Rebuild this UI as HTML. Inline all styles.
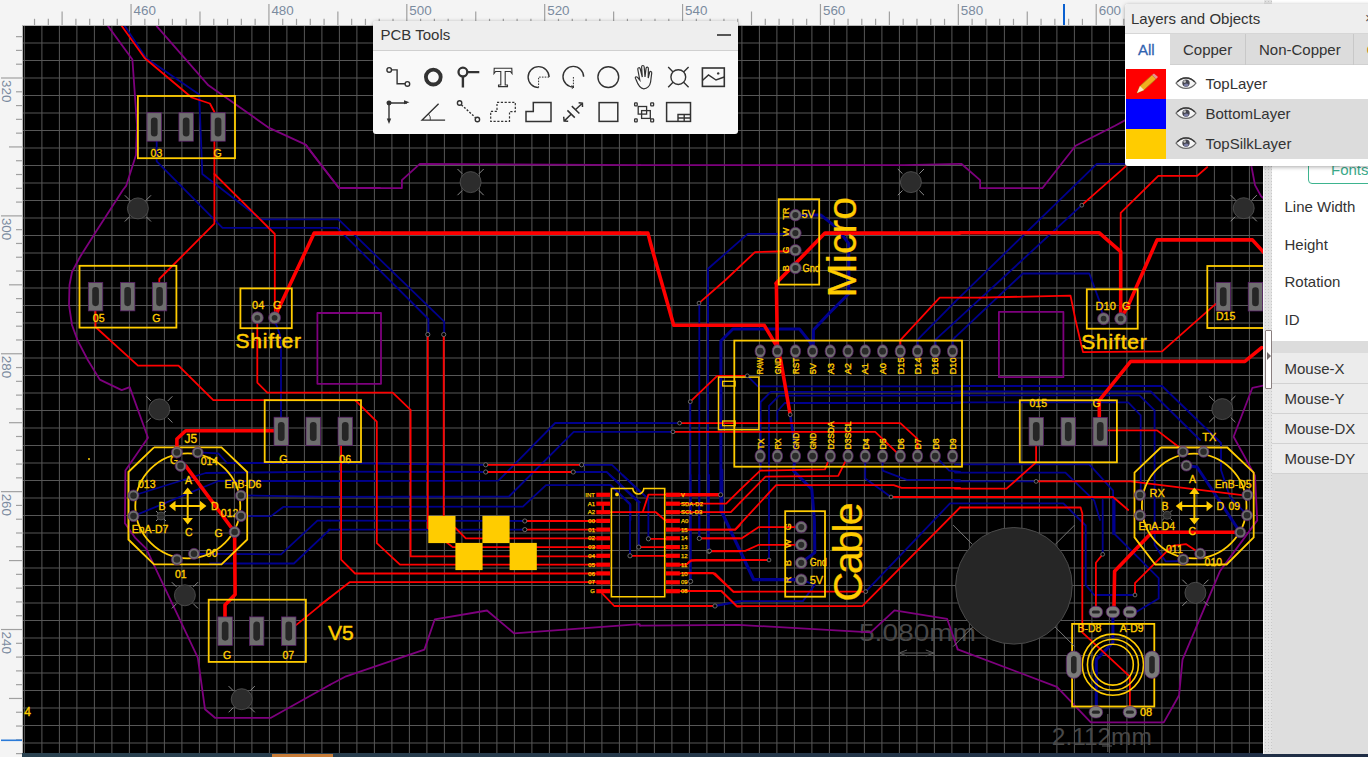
<!DOCTYPE html>
<html><head><meta charset="utf-8"><style>
*{margin:0;padding:0;box-sizing:border-box}
html,body{width:1368px;height:757px;overflow:hidden;background:#f4f4f4;font-family:"Liberation Sans",sans-serif}
svg{position:absolute;left:0;top:0}
.rl{font-family:"Liberation Sans",sans-serif;font-size:13.4px;fill:#7b8b9f}
.panel{position:absolute;background:#fff;box-shadow:0 1px 4px rgba(0,0,0,.35);border-radius:3px;overflow:hidden}
</style></head><body>
<svg width="1368" height="757" viewBox="0 0 1368 757">
<rect x="0" y="0" width="1368" height="757" fill="#f4f4f4"/>
<line x1="34.53" y1="18.8" x2="34.53" y2="25" stroke="#a0a0a0" stroke-width="1.2"/><line x1="48.32" y1="18.8" x2="48.32" y2="25" stroke="#a0a0a0" stroke-width="1.2"/><line x1="62.11" y1="11.5" x2="62.11" y2="25" stroke="#a0a0a0" stroke-width="1.2"/><line x1="75.90" y1="18.8" x2="75.90" y2="25" stroke="#a0a0a0" stroke-width="1.2"/><line x1="89.69" y1="18.8" x2="89.69" y2="25" stroke="#a0a0a0" stroke-width="1.2"/><line x1="103.47" y1="18.8" x2="103.47" y2="25" stroke="#a0a0a0" stroke-width="1.2"/><line x1="117.26" y1="18.8" x2="117.26" y2="25" stroke="#a0a0a0" stroke-width="1.2"/><line x1="131.05" y1="4" x2="131.05" y2="25" stroke="#a0a0a0" stroke-width="1.2"/><text x="133.55" y="14.8" class="rl">460</text><line x1="144.84" y1="18.8" x2="144.84" y2="25" stroke="#a0a0a0" stroke-width="1.2"/><line x1="158.63" y1="18.8" x2="158.63" y2="25" stroke="#a0a0a0" stroke-width="1.2"/><line x1="172.41" y1="18.8" x2="172.41" y2="25" stroke="#a0a0a0" stroke-width="1.2"/><line x1="186.20" y1="18.8" x2="186.20" y2="25" stroke="#a0a0a0" stroke-width="1.2"/><line x1="199.99" y1="11.5" x2="199.99" y2="25" stroke="#a0a0a0" stroke-width="1.2"/><line x1="213.78" y1="18.8" x2="213.78" y2="25" stroke="#a0a0a0" stroke-width="1.2"/><line x1="227.57" y1="18.8" x2="227.57" y2="25" stroke="#a0a0a0" stroke-width="1.2"/><line x1="241.35" y1="18.8" x2="241.35" y2="25" stroke="#a0a0a0" stroke-width="1.2"/><line x1="255.14" y1="18.8" x2="255.14" y2="25" stroke="#a0a0a0" stroke-width="1.2"/><line x1="268.93" y1="4" x2="268.93" y2="25" stroke="#a0a0a0" stroke-width="1.2"/><text x="271.43" y="14.8" class="rl">480</text><line x1="282.72" y1="18.8" x2="282.72" y2="25" stroke="#a0a0a0" stroke-width="1.2"/><line x1="296.51" y1="18.8" x2="296.51" y2="25" stroke="#a0a0a0" stroke-width="1.2"/><line x1="310.29" y1="18.8" x2="310.29" y2="25" stroke="#a0a0a0" stroke-width="1.2"/><line x1="324.08" y1="18.8" x2="324.08" y2="25" stroke="#a0a0a0" stroke-width="1.2"/><line x1="337.87" y1="11.5" x2="337.87" y2="25" stroke="#a0a0a0" stroke-width="1.2"/><line x1="351.66" y1="18.8" x2="351.66" y2="25" stroke="#a0a0a0" stroke-width="1.2"/><line x1="365.45" y1="18.8" x2="365.45" y2="25" stroke="#a0a0a0" stroke-width="1.2"/><line x1="379.23" y1="18.8" x2="379.23" y2="25" stroke="#a0a0a0" stroke-width="1.2"/><line x1="393.02" y1="18.8" x2="393.02" y2="25" stroke="#a0a0a0" stroke-width="1.2"/><line x1="406.81" y1="4" x2="406.81" y2="25" stroke="#a0a0a0" stroke-width="1.2"/><text x="409.31" y="14.8" class="rl">500</text><line x1="420.60" y1="18.8" x2="420.60" y2="25" stroke="#a0a0a0" stroke-width="1.2"/><line x1="434.39" y1="18.8" x2="434.39" y2="25" stroke="#a0a0a0" stroke-width="1.2"/><line x1="448.17" y1="18.8" x2="448.17" y2="25" stroke="#a0a0a0" stroke-width="1.2"/><line x1="461.96" y1="18.8" x2="461.96" y2="25" stroke="#a0a0a0" stroke-width="1.2"/><line x1="475.75" y1="11.5" x2="475.75" y2="25" stroke="#a0a0a0" stroke-width="1.2"/><line x1="489.54" y1="18.8" x2="489.54" y2="25" stroke="#a0a0a0" stroke-width="1.2"/><line x1="503.33" y1="18.8" x2="503.33" y2="25" stroke="#a0a0a0" stroke-width="1.2"/><line x1="517.11" y1="18.8" x2="517.11" y2="25" stroke="#a0a0a0" stroke-width="1.2"/><line x1="530.90" y1="18.8" x2="530.90" y2="25" stroke="#a0a0a0" stroke-width="1.2"/><line x1="544.69" y1="4" x2="544.69" y2="25" stroke="#a0a0a0" stroke-width="1.2"/><text x="547.19" y="14.8" class="rl">520</text><line x1="558.48" y1="18.8" x2="558.48" y2="25" stroke="#a0a0a0" stroke-width="1.2"/><line x1="572.27" y1="18.8" x2="572.27" y2="25" stroke="#a0a0a0" stroke-width="1.2"/><line x1="586.05" y1="18.8" x2="586.05" y2="25" stroke="#a0a0a0" stroke-width="1.2"/><line x1="599.84" y1="18.8" x2="599.84" y2="25" stroke="#a0a0a0" stroke-width="1.2"/><line x1="613.63" y1="11.5" x2="613.63" y2="25" stroke="#a0a0a0" stroke-width="1.2"/><line x1="627.42" y1="18.8" x2="627.42" y2="25" stroke="#a0a0a0" stroke-width="1.2"/><line x1="641.21" y1="18.8" x2="641.21" y2="25" stroke="#a0a0a0" stroke-width="1.2"/><line x1="654.99" y1="18.8" x2="654.99" y2="25" stroke="#a0a0a0" stroke-width="1.2"/><line x1="668.78" y1="18.8" x2="668.78" y2="25" stroke="#a0a0a0" stroke-width="1.2"/><line x1="682.57" y1="4" x2="682.57" y2="25" stroke="#a0a0a0" stroke-width="1.2"/><text x="685.07" y="14.8" class="rl">540</text><line x1="696.36" y1="18.8" x2="696.36" y2="25" stroke="#a0a0a0" stroke-width="1.2"/><line x1="710.15" y1="18.8" x2="710.15" y2="25" stroke="#a0a0a0" stroke-width="1.2"/><line x1="723.93" y1="18.8" x2="723.93" y2="25" stroke="#a0a0a0" stroke-width="1.2"/><line x1="737.72" y1="18.8" x2="737.72" y2="25" stroke="#a0a0a0" stroke-width="1.2"/><line x1="751.51" y1="11.5" x2="751.51" y2="25" stroke="#a0a0a0" stroke-width="1.2"/><line x1="765.30" y1="18.8" x2="765.30" y2="25" stroke="#a0a0a0" stroke-width="1.2"/><line x1="779.09" y1="18.8" x2="779.09" y2="25" stroke="#a0a0a0" stroke-width="1.2"/><line x1="792.87" y1="18.8" x2="792.87" y2="25" stroke="#a0a0a0" stroke-width="1.2"/><line x1="806.66" y1="18.8" x2="806.66" y2="25" stroke="#a0a0a0" stroke-width="1.2"/><line x1="820.45" y1="4" x2="820.45" y2="25" stroke="#a0a0a0" stroke-width="1.2"/><text x="822.95" y="14.8" class="rl">560</text><line x1="834.24" y1="18.8" x2="834.24" y2="25" stroke="#a0a0a0" stroke-width="1.2"/><line x1="848.03" y1="18.8" x2="848.03" y2="25" stroke="#a0a0a0" stroke-width="1.2"/><line x1="861.81" y1="18.8" x2="861.81" y2="25" stroke="#a0a0a0" stroke-width="1.2"/><line x1="875.60" y1="18.8" x2="875.60" y2="25" stroke="#a0a0a0" stroke-width="1.2"/><line x1="889.39" y1="11.5" x2="889.39" y2="25" stroke="#a0a0a0" stroke-width="1.2"/><line x1="903.18" y1="18.8" x2="903.18" y2="25" stroke="#a0a0a0" stroke-width="1.2"/><line x1="916.97" y1="18.8" x2="916.97" y2="25" stroke="#a0a0a0" stroke-width="1.2"/><line x1="930.75" y1="18.8" x2="930.75" y2="25" stroke="#a0a0a0" stroke-width="1.2"/><line x1="944.54" y1="18.8" x2="944.54" y2="25" stroke="#a0a0a0" stroke-width="1.2"/><line x1="958.33" y1="4" x2="958.33" y2="25" stroke="#a0a0a0" stroke-width="1.2"/><text x="960.83" y="14.8" class="rl">580</text><line x1="972.12" y1="18.8" x2="972.12" y2="25" stroke="#a0a0a0" stroke-width="1.2"/><line x1="985.91" y1="18.8" x2="985.91" y2="25" stroke="#a0a0a0" stroke-width="1.2"/><line x1="999.69" y1="18.8" x2="999.69" y2="25" stroke="#a0a0a0" stroke-width="1.2"/><line x1="1013.48" y1="18.8" x2="1013.48" y2="25" stroke="#a0a0a0" stroke-width="1.2"/><line x1="1027.27" y1="11.5" x2="1027.27" y2="25" stroke="#a0a0a0" stroke-width="1.2"/><line x1="1041.06" y1="18.8" x2="1041.06" y2="25" stroke="#a0a0a0" stroke-width="1.2"/><line x1="1054.85" y1="18.8" x2="1054.85" y2="25" stroke="#a0a0a0" stroke-width="1.2"/><line x1="1068.63" y1="18.8" x2="1068.63" y2="25" stroke="#a0a0a0" stroke-width="1.2"/><line x1="1082.42" y1="18.8" x2="1082.42" y2="25" stroke="#a0a0a0" stroke-width="1.2"/><line x1="1096.21" y1="4" x2="1096.21" y2="25" stroke="#a0a0a0" stroke-width="1.2"/><text x="1098.71" y="14.8" class="rl">600</text><line x1="1110.00" y1="18.8" x2="1110.00" y2="25" stroke="#a0a0a0" stroke-width="1.2"/><line x1="1123.79" y1="18.8" x2="1123.79" y2="25" stroke="#a0a0a0" stroke-width="1.2"/><line x1="16" y1="36.64" x2="22" y2="36.64" stroke="#a0a0a0" stroke-width="1.2"/><line x1="16" y1="50.42" x2="22" y2="50.42" stroke="#a0a0a0" stroke-width="1.2"/><line x1="16" y1="64.21" x2="22" y2="64.21" stroke="#a0a0a0" stroke-width="1.2"/><line x1="1" y1="78.00" x2="22" y2="78.00" stroke="#a0a0a0" stroke-width="1.2"/><text transform="translate(1.9,80.00) rotate(90)" class="rl">320</text><line x1="16" y1="91.79" x2="22" y2="91.79" stroke="#a0a0a0" stroke-width="1.2"/><line x1="16" y1="105.58" x2="22" y2="105.58" stroke="#a0a0a0" stroke-width="1.2"/><line x1="16" y1="119.36" x2="22" y2="119.36" stroke="#a0a0a0" stroke-width="1.2"/><line x1="16" y1="133.15" x2="22" y2="133.15" stroke="#a0a0a0" stroke-width="1.2"/><line x1="9" y1="146.94" x2="22" y2="146.94" stroke="#a0a0a0" stroke-width="1.2"/><line x1="16" y1="160.73" x2="22" y2="160.73" stroke="#a0a0a0" stroke-width="1.2"/><line x1="16" y1="174.52" x2="22" y2="174.52" stroke="#a0a0a0" stroke-width="1.2"/><line x1="16" y1="188.30" x2="22" y2="188.30" stroke="#a0a0a0" stroke-width="1.2"/><line x1="16" y1="202.09" x2="22" y2="202.09" stroke="#a0a0a0" stroke-width="1.2"/><line x1="1" y1="215.88" x2="22" y2="215.88" stroke="#a0a0a0" stroke-width="1.2"/><text transform="translate(1.9,217.88) rotate(90)" class="rl">300</text><line x1="16" y1="229.67" x2="22" y2="229.67" stroke="#a0a0a0" stroke-width="1.2"/><line x1="16" y1="243.46" x2="22" y2="243.46" stroke="#a0a0a0" stroke-width="1.2"/><line x1="16" y1="257.24" x2="22" y2="257.24" stroke="#a0a0a0" stroke-width="1.2"/><line x1="16" y1="271.03" x2="22" y2="271.03" stroke="#a0a0a0" stroke-width="1.2"/><line x1="9" y1="284.82" x2="22" y2="284.82" stroke="#a0a0a0" stroke-width="1.2"/><line x1="16" y1="298.61" x2="22" y2="298.61" stroke="#a0a0a0" stroke-width="1.2"/><line x1="16" y1="312.40" x2="22" y2="312.40" stroke="#a0a0a0" stroke-width="1.2"/><line x1="16" y1="326.18" x2="22" y2="326.18" stroke="#a0a0a0" stroke-width="1.2"/><line x1="16" y1="339.97" x2="22" y2="339.97" stroke="#a0a0a0" stroke-width="1.2"/><line x1="1" y1="353.76" x2="22" y2="353.76" stroke="#a0a0a0" stroke-width="1.2"/><text transform="translate(1.9,355.76) rotate(90)" class="rl">280</text><line x1="16" y1="367.55" x2="22" y2="367.55" stroke="#a0a0a0" stroke-width="1.2"/><line x1="16" y1="381.34" x2="22" y2="381.34" stroke="#a0a0a0" stroke-width="1.2"/><line x1="16" y1="395.12" x2="22" y2="395.12" stroke="#a0a0a0" stroke-width="1.2"/><line x1="16" y1="408.91" x2="22" y2="408.91" stroke="#a0a0a0" stroke-width="1.2"/><line x1="9" y1="422.70" x2="22" y2="422.70" stroke="#a0a0a0" stroke-width="1.2"/><line x1="16" y1="436.49" x2="22" y2="436.49" stroke="#a0a0a0" stroke-width="1.2"/><line x1="16" y1="450.28" x2="22" y2="450.28" stroke="#a0a0a0" stroke-width="1.2"/><line x1="16" y1="464.06" x2="22" y2="464.06" stroke="#a0a0a0" stroke-width="1.2"/><line x1="16" y1="477.85" x2="22" y2="477.85" stroke="#a0a0a0" stroke-width="1.2"/><line x1="1" y1="491.64" x2="22" y2="491.64" stroke="#a0a0a0" stroke-width="1.2"/><text transform="translate(1.9,493.64) rotate(90)" class="rl">260</text><line x1="16" y1="505.43" x2="22" y2="505.43" stroke="#a0a0a0" stroke-width="1.2"/><line x1="16" y1="519.22" x2="22" y2="519.22" stroke="#a0a0a0" stroke-width="1.2"/><line x1="16" y1="533.00" x2="22" y2="533.00" stroke="#a0a0a0" stroke-width="1.2"/><line x1="16" y1="546.79" x2="22" y2="546.79" stroke="#a0a0a0" stroke-width="1.2"/><line x1="9" y1="560.58" x2="22" y2="560.58" stroke="#a0a0a0" stroke-width="1.2"/><line x1="16" y1="574.37" x2="22" y2="574.37" stroke="#a0a0a0" stroke-width="1.2"/><line x1="16" y1="588.16" x2="22" y2="588.16" stroke="#a0a0a0" stroke-width="1.2"/><line x1="16" y1="601.94" x2="22" y2="601.94" stroke="#a0a0a0" stroke-width="1.2"/><line x1="16" y1="615.73" x2="22" y2="615.73" stroke="#a0a0a0" stroke-width="1.2"/><line x1="1" y1="629.52" x2="22" y2="629.52" stroke="#a0a0a0" stroke-width="1.2"/><text transform="translate(1.9,631.52) rotate(90)" class="rl">240</text><line x1="16" y1="643.31" x2="22" y2="643.31" stroke="#a0a0a0" stroke-width="1.2"/><line x1="16" y1="657.10" x2="22" y2="657.10" stroke="#a0a0a0" stroke-width="1.2"/><line x1="16" y1="670.88" x2="22" y2="670.88" stroke="#a0a0a0" stroke-width="1.2"/><line x1="16" y1="684.67" x2="22" y2="684.67" stroke="#a0a0a0" stroke-width="1.2"/><line x1="9" y1="698.46" x2="22" y2="698.46" stroke="#a0a0a0" stroke-width="1.2"/><line x1="16" y1="712.25" x2="22" y2="712.25" stroke="#a0a0a0" stroke-width="1.2"/><line x1="16" y1="726.04" x2="22" y2="726.04" stroke="#a0a0a0" stroke-width="1.2"/><line x1="16" y1="739.82" x2="22" y2="739.82" stroke="#a0a0a0" stroke-width="1.2"/><line x1="16" y1="753.61" x2="22" y2="753.61" stroke="#a0a0a0" stroke-width="1.2"/><line x1="1064" y1="4" x2="1064" y2="25" stroke="#0a60d0" stroke-width="2"/><line x1="1" y1="740.3" x2="22" y2="740.3" stroke="#2a7ad8" stroke-width="1.6"/>
<line x1="22" y1="25.5" x2="1263" y2="25.5" stroke="#b8b8b8" stroke-width="1"/>
<line x1="22.5" y1="25" x2="22.5" y2="757" stroke="#b8b8b8" stroke-width="1"/>
<defs><clipPath id="cv"><rect x="23" y="26" width="1240" height="727"/></clipPath></defs>
<rect x="23" y="26" width="1240" height="727" fill="#000"/>
<g clip-path="url(#cv)">
<path d="M24.40 26V753M41.90 26V753M59.40 26V753M76.90 26V753M94.40 26V753M111.90 26V753M129.40 26V753M146.90 26V753M164.40 26V753M181.90 26V753M199.40 26V753M216.90 26V753M234.40 26V753M251.90 26V753M269.40 26V753M286.90 26V753M304.40 26V753M321.90 26V753M339.40 26V753M356.90 26V753M374.40 26V753M391.90 26V753M409.40 26V753M426.90 26V753M444.40 26V753M461.90 26V753M479.40 26V753M496.90 26V753M514.40 26V753M531.90 26V753M549.40 26V753M566.90 26V753M584.40 26V753M601.90 26V753M619.40 26V753M636.90 26V753M654.40 26V753M671.90 26V753M689.40 26V753M706.90 26V753M724.40 26V753M741.90 26V753M759.40 26V753M776.90 26V753M794.40 26V753M811.90 26V753M829.40 26V753M846.90 26V753M864.40 26V753M881.90 26V753M899.40 26V753M916.90 26V753M934.40 26V753M951.90 26V753M969.40 26V753M986.90 26V753M1004.40 26V753M1021.90 26V753M1039.40 26V753M1056.90 26V753M1074.40 26V753M1091.90 26V753M1109.40 26V753M1126.90 26V753M1144.40 26V753M1161.90 26V753M1179.40 26V753M1196.90 26V753M1214.40 26V753M1231.90 26V753M1249.40 26V753M23 43.00H1263M23 60.50H1263M23 78.00H1263M23 95.50H1263M23 113.00H1263M23 130.50H1263M23 148.00H1263M23 165.50H1263M23 183.00H1263M23 200.50H1263M23 218.00H1263M23 235.50H1263M23 253.00H1263M23 270.50H1263M23 288.00H1263M23 305.50H1263M23 323.00H1263M23 340.50H1263M23 358.00H1263M23 375.50H1263M23 393.00H1263M23 410.50H1263M23 428.00H1263M23 445.50H1263M23 463.00H1263M23 480.50H1263M23 498.00H1263M23 515.50H1263M23 533.00H1263M23 550.50H1263M23 568.00H1263M23 585.50H1263M23 603.00H1263M23 620.50H1263M23 638.00H1263M23 655.50H1263M23 673.00H1263M23 690.50H1263M23 708.00H1263M23 725.50H1263M23 743.00H1263" stroke="#575757" stroke-width="1" fill="none"/>
<g font-family="Liberation Sans, sans-serif"><text x="859" y="641" font-size="24" fill="#484848" textLength="117" lengthAdjust="spacingAndGlyphs">5.080mm</text><path d="M898.9 585V671M933.9 585V671M899 653H933.8M899 653L907 650M899 653L907 656M933.8 653L925.8 650M933.8 653L925.8 656" stroke="#5a5a5a" stroke-width="1" fill="none"/><text x="1051.8" y="744.5" font-size="24" fill="#484848" textLength="100" lengthAdjust="spacingAndGlyphs">2.112mm</text><path d="M1107.8 714V752M1102 746H1112" stroke="#5a5a5a" stroke-width="1" fill="none"/></g><g fill="none" stroke-linejoin="round" stroke-linecap="round"><polyline points="108.1,26.1 132.4,59.5 137,125 136,155 126.3,185.6 122.9,190 95.3,232.7 80,257 72,272 69.5,285 69,305 72,325 77.7,340.6 87.8,360 99.8,379.6 121.7,390.1 129.7,387.1 148,437.8 125.4,470.4 124.9,523.2 135.5,538.2 146.2,548.6 197.8,657.6 205,709.2 215,717.8 271,717.8 330,684.8" stroke="#7d007d" stroke-width="1.8"/><polyline points="156.7,26.1 208.4,85.3 269.1,127.9 305.6,144.6 339,188 380,188" stroke="#7d007d" stroke-width="1.8"/><polyline points="317.4,313 381,313 381,383.8 317.4,383.8 317.4,313" stroke="#7d007d" stroke-width="1.8"/><polyline points="305.6,144.6 320,163.8 339,188.1 401.9,188.1 401.9,180.2 419.9,163.8 640,165.1" stroke="#7d007d" stroke-width="1.8"/><polyline points="640,165.1 904.3,165.1 960,163.8" stroke="#7d007d" stroke-width="1.8"/><polyline points="640,625.6 738.4,624.9 870.7,632.3 894.5,610.3 947.1,618.8 957.7,649.4" stroke="#7d007d" stroke-width="1.8"/><polyline points="960,163.8 961.3,163.8 980.1,180.1 980.1,188.2 1042.3,188.2 1075.6,145.7 1115,125.8 1126.8,119.4" stroke="#7d007d" stroke-width="1.8"/><polyline points="1251.2,165 1255,185.1 1261.2,196.4 1266,200" stroke="#7d007d" stroke-width="1.8"/><polyline points="998.9,311.9 1063.4,311.9 1063.4,377.2 998.9,377.2 998.9,311.9" stroke="#7d007d" stroke-width="1.8"/><polyline points="1266,385 1252.4,387.8 1233.6,436.7 1255,475.6 1257.2,520.4 1219.9,571.3 1182.5,659.6 1179.1,695.2 1163.8,722.4 1090.8,722.4 1056.9,686.8 957.7,649.4" stroke="#7d007d" stroke-width="1.8"/><polyline points="330,684.8 346.1,676.3 424.4,649.6 434.8,619.3 487,610.5 514,633.3 639.6,624.2 640,625.6" stroke="#7d007d" stroke-width="1.8"/><polyline points="124.8,26.1 146,58 199.2,94.4 202.3,174 261,219.4 339,219.4" stroke="#00008e" stroke-width="1.8"/><polyline points="156.7,141 156.7,161.3 222.5,227.8 337.2,227.8" stroke="#00008e" stroke-width="1.8"/><polyline points="274.6,320 280,335 281,345 281,417" stroke="#00008e" stroke-width="1.8"/><polyline points="133.5,495.5 205.7,473 330,471.7" stroke="#00008e" stroke-width="1.8"/><polyline points="133.5,516.1 218.3,481 330,481" stroke="#00008e" stroke-width="1.8"/><polyline points="197.7,452.4 218.3,453.4 227,463 330,463" stroke="#00008e" stroke-width="1.8"/><polyline points="240.9,495.5 330,496.8" stroke="#00008e" stroke-width="1.8"/><polyline points="240.9,516.1 271,516.1 283.5,506.8 330,506.8" stroke="#00008e" stroke-width="1.8"/><polyline points="194,553.8 281,554.3 317.4,520.6 330,520.6" stroke="#00008e" stroke-width="1.8"/><polyline points="210,563.5 293.9,563.5 330,529.4" stroke="#00008e" stroke-width="1.8"/><polyline points="338.5,219.4 444.2,321.6 444.2,334.5" stroke="#00008e" stroke-width="1.8"/><polyline points="337.2,227.8 428.4,319 428.4,334.5" stroke="#00008e" stroke-width="1.8"/><polyline points="330,463 485.7,464.8" stroke="#00008e" stroke-width="1.8"/><polyline points="330,471.7 485.7,472" stroke="#00008e" stroke-width="1.8"/><polyline points="330,481 498.4,480.7 555.2,423 640,423" stroke="#00008e" stroke-width="1.8"/><polyline points="330,496.8 509,496.5 573.7,431.8 640,431.8" stroke="#00008e" stroke-width="1.8"/><polyline points="330,506.8 522.9,506.6 546,485.2 610.7,485.2 630.5,505 630.5,520" stroke="#00008e" stroke-width="1.8"/><polyline points="581.6,464.8 612,464.8 640,491.8" stroke="#00008e" stroke-width="1.8"/><polyline points="573.2,472 606.7,472 640,502.3" stroke="#00008e" stroke-width="1.8"/><polyline points="330,520.6 524.8,521" stroke="#00008e" stroke-width="1.8"/><polyline points="328.5,529.6 524.8,529.6" stroke="#00008e" stroke-width="1.8"/><polyline points="580,485.2 610.5,485.2 630,503.7 630,555.8" stroke="#00008e" stroke-width="1.8"/><polyline points="609.6,475 638.8,502.7 638.8,547.1" stroke="#00008e" stroke-width="1.8"/><polyline points="622.5,475 648.4,499 648.4,538.8" stroke="#00008e" stroke-width="1.8"/><polyline points="690.6,475 690.6,581.4" stroke="#00008e" stroke-width="1.8"/><polyline points="699.3,475 699.3,538.4" stroke="#00008e" stroke-width="1.8"/><polyline points="708.9,475 708.9,551.4" stroke="#00008e" stroke-width="1.8"/><polyline points="715,606 740,601.7" stroke="#00008e" stroke-width="1.8"/><polyline points="721.8,470 721.8,512 753.7,579.7 801.2,579.7" stroke="#00008e" stroke-width="3.2"/><polyline points="708,330 708,268.7 747.8,233.9 795.4,233.9" stroke="#00008e" stroke-width="1.8"/><polyline points="708,268.7 708,551.4" stroke="#00008e" stroke-width="1.8"/><polyline points="699.3,303.1 699.3,538.4" stroke="#00008e" stroke-width="1.8"/><polyline points="690.3,401.7 690.6,581.4" stroke="#00008e" stroke-width="1.8"/><polyline points="801.2,215.1 821,215.1 836.9,227.8 848.8,243.6 848.8,293.8 830,312.4 813.4,330 813.4,342.9 812.6,351.2" stroke="#00008e" stroke-width="3"/><polyline points="720.9,512 720.9,341 732.9,329 799.5,329 810.6,342.9 812.4,350.8" stroke="#00008e" stroke-width="3"/><polyline points="747.3,375.8 757.9,386.4 960,386.4" stroke="#00008e" stroke-width="1.8"/><polyline points="760.6,420 760.6,402 770.8,391.9 960,391.9" stroke="#00008e" stroke-width="1.8"/><polyline points="769,420 769,405.8 779.1,395.6 960,395.6" stroke="#00008e" stroke-width="1.8"/><polyline points="777.3,420 777.3,411.3 784.7,403 960,403" stroke="#00008e" stroke-width="1.8"/><polyline points="760.6,420 760.6,470" stroke="#00008e" stroke-width="1.8"/><polyline points="769,420 769,560" stroke="#00008e" stroke-width="1.8"/><polyline points="640,423 679.6,423.1" stroke="#00008e" stroke-width="1.8"/><polyline points="640,431.8 673,431.8" stroke="#00008e" stroke-width="1.8"/><polyline points="865.2,456 865.2,478.6 891,497" stroke="#00008e" stroke-width="1.8"/><polyline points="882.6,456 882.6,470.6 906.9,479.9 960,479.9" stroke="#00008e" stroke-width="1.8"/><polyline points="935.2,456 949.2,470.6 960,472" stroke="#00008e" stroke-width="1.8"/><polyline points="795.4,456.1 793.3,470.6 811.8,489.1 814.4,520 814.8,552.6 801.2,562.8" stroke="#00008e" stroke-width="3"/><polyline points="917.7,351 917.7,339.6 955,301.9" stroke="#00008e" stroke-width="1.8"/><polyline points="952.7,351 952.7,339.6 955,337.3" stroke="#00008e" stroke-width="1.8"/><polyline points="935.5,351 935.5,339.6 955,321.9" stroke="#00008e" stroke-width="1.8"/><polyline points="714.7,605.9 738.4,601.1 802.9,601.1 814.8,584.8 801.2,579.7" stroke="#00008e" stroke-width="1.8"/><polyline points="865.7,591.6 950,503.4 1063.4,503.4 1085.7,525.5 1085.7,584.9 1094.2,595 1135,595" stroke="#00008e" stroke-width="1.8"/><polyline points="955,301.9 1096.8,163.8 1130,163.8" stroke="#00008e" stroke-width="1.8"/><polyline points="955,321.9 1081.8,205.2" stroke="#00008e" stroke-width="1.8"/><polyline points="955,337.3 1022.8,273.5 1089.3,273.5 1099.3,300.6 1103.6,318.7" stroke="#00008e" stroke-width="1.8"/><polyline points="955,481.4 1036.1,481.4" stroke="#00008e" stroke-width="1.8"/><polyline points="955,386 1162.1,386 1221,443 1221,470 1230,497 1247,515" stroke="#00008e" stroke-width="1.8"/><polyline points="955,391.5 1150.8,391.5 1200,440" stroke="#00008e" stroke-width="1.8"/><polyline points="955,395.3 1139.5,395.3 1154.6,410.4 1154.6,545 1165.7,561.4 1183.2,561" stroke="#00008e" stroke-width="1.8"/><polyline points="955,402.3 1128.2,402.3 1140.7,415.4 1140.7,495" stroke="#00008e" stroke-width="1.8"/><polyline points="955,464.3 1089.3,464.3 1113.1,490.7 1113.1,534" stroke="#00008e" stroke-width="1.8"/><polyline points="955,472.6 1065.4,472.6 1094.3,500.7 1100,520" stroke="#00008e" stroke-width="1.8"/><polyline points="1186.4,465.6 1197,467 1240.2,532.3" stroke="#00008e" stroke-width="3"/><polyline points="1102.7,500 1102.7,554.3" stroke="#00008e" stroke-width="1.8"/><polyline points="1114.6,500 1114.6,534 1158.7,578.1 1158.7,598.5 1133.3,613.8" stroke="#00008e" stroke-width="1.8"/><polyline points="1112.9,612 1112.9,642.6 1096.3,659.6 1096.3,712.2" stroke="#00008e" stroke-width="3"/><polyline points="790.2,414.7 794,440 795.4,456" stroke="#00008e" stroke-width="2.6"/><polyline points="121.8,26.1 144.6,58 191.6,97.5 209.9,103.5 214.4,112" stroke="#ff0000" stroke-width="1.8"/><polyline points="214.4,141 214.4,223.7 159.3,279 159.3,283" stroke="#ff0000" stroke-width="1.8"/><polyline points="214.4,174 274.8,234 274.8,311" stroke="#ff0000" stroke-width="1.8"/><polyline points="274.8,317.8 278,310 314.2,233.1 380,233.1" stroke="#ff0000" stroke-width="3.6"/><polyline points="95.5,310.5 95.5,327 138,365.6 178.5,365.6 213.3,400.2 266,400.2" stroke="#ff0000" stroke-width="1.8"/><polyline points="257.3,317.8 257.3,382.6 267.3,392.6 330,392.6" stroke="#ff0000" stroke-width="1.8"/><polyline points="176.9,452.4 176.9,439 185.7,430.8 281,430.8" stroke="#ff0000" stroke-width="3.6"/><polyline points="180.6,465.9 185.7,465.9 234.6,532 235.1,594.5 225,605 225,630" stroke="#ff0000" stroke-width="3.6"/><polyline points="289,630 296.7,624.6 330,597.4" stroke="#ff0000" stroke-width="1.8"/><polyline points="380,233.1 640,233.1" stroke="#ff0000" stroke-width="3.6"/><polyline points="330,392.6 392.7,392.7 410.6,409.9 410.6,556.4 425.9,556.4" stroke="#ff0000" stroke-width="1.8"/><polyline points="266,400.2 355.1,400.2 376.8,421.7 376.8,543.2 400,564.7 596,564.7" stroke="#ff0000" stroke-width="1.8"/><polyline points="341.1,444.2 341.1,559.6 355.1,573.5 596,573.5" stroke="#ff0000" stroke-width="1.8"/><polyline points="427.8,334.5 427.8,528 452.7,547.1 596,547.1" stroke="#ff0000" stroke-width="1.8"/><polyline points="443.7,334.5 443.7,518 456,528.5 465.8,538.4 596,538.4" stroke="#ff0000" stroke-width="1.8"/><polyline points="425.9,556.4 596,556.4" stroke="#ff0000" stroke-width="1.8"/><polyline points="320,605.3 349.6,582.2 596,582.2" stroke="#ff0000" stroke-width="1.8"/><polyline points="485.7,464.8 581.6,464.8" stroke="#ff0000" stroke-width="1.8"/><polyline points="485.7,472 573.2,472" stroke="#ff0000" stroke-width="1.8"/><polyline points="524.8,521 596,521" stroke="#ff0000" stroke-width="1.8"/><polyline points="524.8,529.6 596,529.6" stroke="#ff0000" stroke-width="1.8"/><polyline points="680,494.8 720.6,494.8" stroke="#ff0000" stroke-width="3.6"/><polyline points="611,512.2 655.8,512.2 665.1,520.3" stroke="#ff0000" stroke-width="1.8"/><polyline points="642.9,511.5 648.4,494.6 666,494.6" stroke="#ff0000" stroke-width="1.8"/><polyline points="680,503.7 726.1,503.7 740,489.8" stroke="#ff0000" stroke-width="1.8"/><polyline points="680,512.2 730.8,512.2 740,502.7" stroke="#ff0000" stroke-width="1.8"/><polyline points="680,529.6 735.4,529.6 740,525" stroke="#ff0000" stroke-width="1.8"/><polyline points="648.4,538.8 666,538.8" stroke="#ff0000" stroke-width="1.8"/><polyline points="699.3,538.4 740,538.4" stroke="#ff0000" stroke-width="1.8"/><polyline points="638.8,547.1 666,547.1" stroke="#ff0000" stroke-width="1.8"/><polyline points="630,555.8 666,555.8" stroke="#ff0000" stroke-width="1.8"/><polyline points="708.9,551.4 740,551.4" stroke="#ff0000" stroke-width="1.8"/><polyline points="680,564.7 686.4,564.7 691,560.5 740,560.5" stroke="#ff0000" stroke-width="1.8"/><polyline points="680,573.4 715,573.4 733.5,591.9 740,591.9" stroke="#ff0000" stroke-width="1.8"/><polyline points="680,591.2 721.5,591.2 737.2,606.7 740,606.7" stroke="#ff0000" stroke-width="1.8"/><polyline points="602.2,593.4 614.2,606 715,606" stroke="#ff0000" stroke-width="1.8"/><polyline points="603,503.7 603,512.2" stroke="#ff0000" stroke-width="1.8"/><rect x="596.3" y="492.7" width="13.7" height="4.2" fill="#ff0000" stroke="none"/><rect x="666" y="492.7" width="13.9" height="4.2" fill="#ff0000" stroke="none"/><rect x="596.3" y="501.59999999999997" width="13.7" height="4.2" fill="#ff0000" stroke="none"/><rect x="666" y="501.59999999999997" width="13.9" height="4.2" fill="#ff0000" stroke="none"/><rect x="596.3" y="510.1" width="13.7" height="4.2" fill="#ff0000" stroke="none"/><rect x="666" y="510.1" width="13.9" height="4.2" fill="#ff0000" stroke="none"/><rect x="596.3" y="518.8" width="13.7" height="4.2" fill="#ff0000" stroke="none"/><rect x="666" y="518.8" width="13.9" height="4.2" fill="#ff0000" stroke="none"/><rect x="596.3" y="527.5" width="13.7" height="4.2" fill="#ff0000" stroke="none"/><rect x="666" y="527.5" width="13.9" height="4.2" fill="#ff0000" stroke="none"/><rect x="596.3" y="536.1999999999999" width="13.7" height="4.2" fill="#ff0000" stroke="none"/><rect x="666" y="536.1999999999999" width="13.9" height="4.2" fill="#ff0000" stroke="none"/><rect x="596.3" y="545.0" width="13.7" height="4.2" fill="#ff0000" stroke="none"/><rect x="666" y="545.0" width="13.9" height="4.2" fill="#ff0000" stroke="none"/><rect x="596.3" y="553.6999999999999" width="13.7" height="4.2" fill="#ff0000" stroke="none"/><rect x="666" y="553.6999999999999" width="13.9" height="4.2" fill="#ff0000" stroke="none"/><rect x="596.3" y="562.6" width="13.7" height="4.2" fill="#ff0000" stroke="none"/><rect x="666" y="562.6" width="13.9" height="4.2" fill="#ff0000" stroke="none"/><rect x="596.3" y="571.3" width="13.7" height="4.2" fill="#ff0000" stroke="none"/><rect x="666" y="571.3" width="13.9" height="4.2" fill="#ff0000" stroke="none"/><rect x="596.3" y="580.1999999999999" width="13.7" height="4.2" fill="#ff0000" stroke="none"/><rect x="666" y="580.1999999999999" width="13.9" height="4.2" fill="#ff0000" stroke="none"/><rect x="596.3" y="589.1" width="13.7" height="4.2" fill="#ff0000" stroke="none"/><rect x="666" y="589.1" width="13.9" height="4.2" fill="#ff0000" stroke="none"/><polyline points="640,233.1 647.9,233.1 651,245 673.7,325.3 764.3,325.3 776.4,345.7 777.7,350.8" stroke="#ff0000" stroke-width="3.6"/><polyline points="776.4,283.7 777.3,342.9 777.7,350.8" stroke="#ff0000" stroke-width="3.6"/><polyline points="776.1,283.3 825,233.1 960,233.1" stroke="#ff0000" stroke-width="3.6"/><polyline points="777.7,350.8 780.6,359.5 790.2,414.7" stroke="#ff0000" stroke-width="3.6"/><polyline points="699,303.1 725.5,280 755,252.1 795.4,251" stroke="#ff0000" stroke-width="1.8"/><polyline points="690.3,401.7 717.2,375.8 747.3,375.8" stroke="#ff0000" stroke-width="1.8"/><polyline points="680,564.7 686.4,564.7 691,560.5 696,560 769,560" stroke="#ff0000" stroke-width="1.8"/><polyline points="679.6,423.1 900.3,423.1 917.5,438.9 917.5,456" stroke="#ff0000" stroke-width="1.8"/><polyline points="673,431.8 875.2,431.8 895,450.8 900.3,456" stroke="#ff0000" stroke-width="1.8"/><polyline points="740,489.8 760.2,470.6 825,469.3 830.3,456.1" stroke="#ff0000" stroke-width="1.8"/><polyline points="740,502.7 765.5,476.7 838.2,475.9 848,456.1" stroke="#ff0000" stroke-width="1.8"/><polyline points="680,529.6 735,529.6 776.1,485.2 893.7,485.2 901.6,487.8 960,487.8" stroke="#ff0000" stroke-width="1.8"/><polyline points="891,497 960,497" stroke="#ff0000" stroke-width="1.8"/><polyline points="900.4,351.2 900.4,340.2 939.7,297.6 980,297.6" stroke="#ff0000" stroke-width="1.8"/><polyline points="699.3,538.4 741.8,538.3 758.8,527.1 801.2,527.1" stroke="#ff0000" stroke-width="1.8"/><polyline points="709.6,550.9 745.2,550.9 758.8,544.8 801.2,544.8" stroke="#ff0000" stroke-width="1.8"/><polyline points="684,573 713,573 733.3,591.6 865.7,591.6" stroke="#ff0000" stroke-width="1.8"/><polyline points="684,591 721.4,591 736.7,606.2 862.3,606.2 960,507.5" stroke="#ff0000" stroke-width="1.8"/><polyline points="1081.8,205.2 1125.7,166.3" stroke="#ff0000" stroke-width="1.8"/><polyline points="1120.7,250.4 1120.7,212.8 1158.3,175.9 1197.2,175.9 1207.3,167" stroke="#ff0000" stroke-width="1.8"/><polyline points="960,232.8 1099.3,232.8 1120.7,251.7 1120.7,318.7" stroke="#ff0000" stroke-width="3.6"/><polyline points="1120.7,318.7 1128.2,305.6 1157.1,239.9 1252.4,239.9 1266,255" stroke="#ff0000" stroke-width="3.6"/><polyline points="980,297.6 1070.5,295.6 1075.5,320 1083,352.1 1162.1,351.4 1216,303.6" stroke="#ff0000" stroke-width="1.8"/><polyline points="1261.7,347.6 1244.9,361.4 1130.7,361.4 1099.3,400.3 1099.3,416.6" stroke="#ff0000" stroke-width="3.6"/><polyline points="1036.1,445 1036.1,462.3 1006.5,488.7 955,488.7" stroke="#ff0000" stroke-width="1.8"/><polyline points="1107.1,430.4 1157.1,430.4 1178.4,446.8 1182.9,451.8" stroke="#ff0000" stroke-width="1.8"/><polyline points="1036.1,481.4 1130.7,481.4 1246.2,495.7" stroke="#ff0000" stroke-width="1.8"/><polyline points="955,497 1113.1,497 1128.2,510" stroke="#ff0000" stroke-width="1.8"/><polyline points="1240.2,532.3 1152,532.3 1114.6,571.3 1113.9,612" stroke="#ff0000" stroke-width="3.6"/><polyline points="1135,595 1135,583.2 1172.3,545.8 1185.9,544.1 1200.2,553.6" stroke="#ff0000" stroke-width="1.8"/><polyline points="960,507.5 1080.6,507.5 1082.3,513.6 1082.3,632.4 1129.9,676.6 1129.9,712.2" stroke="#ff0000" stroke-width="1.8"/><polyline points="1102.7,554.3 1095.9,562.8 1095.9,612" stroke="#ff0000" stroke-width="1.8"/></g><g fill="none" stroke-linejoin="miter" font-family="Liberation Sans, sans-serif"><rect x="137.9" y="96" width="97.1" height="62.19999999999999" stroke="#ffcc00" stroke-width="1.8"/><text x="150.6" y="156.5" font-size="10.5" text-anchor="start" font-weight="normal" fill="#ffcc00" stroke="#ffcc00" stroke-width="0.35" stroke-linejoin="round">03</text><text x="213.5" y="156.5" font-size="10.5" text-anchor="start" font-weight="normal" fill="#ffcc00" stroke="#ffcc00" stroke-width="0.35" stroke-linejoin="round">G</text><rect x="79.5" y="265.8" width="96.9" height="61.80000000000001" stroke="#ffcc00" stroke-width="1.8"/><text x="92.8" y="321.8" font-size="10.5" text-anchor="start" font-weight="normal" fill="#ffcc00" stroke="#ffcc00" stroke-width="0.35" stroke-linejoin="round">05</text><text x="152.3" y="321.8" font-size="10.5" text-anchor="start" font-weight="normal" fill="#ffcc00" stroke="#ffcc00" stroke-width="0.35" stroke-linejoin="round">G</text><rect x="240.4" y="288.4" width="51.400000000000006" height="39.80000000000001" stroke="#ffcc00" stroke-width="1.8"/><text x="252.1" y="308.8" font-size="11" text-anchor="start" font-weight="normal" fill="#ffcc00" stroke="#ffcc00" stroke-width="0.35" stroke-linejoin="round">04</text><text x="273" y="308.8" font-size="11" text-anchor="start" font-weight="normal" fill="#ffcc00" stroke="#ffcc00" stroke-width="0.35" stroke-linejoin="round">G</text><text x="235.5" y="347.6" font-size="21" text-anchor="start" font-weight="normal" fill="#ffcc00" stroke="#ffcc00" stroke-width="0.5" stroke-linejoin="round" textLength="65.5" lengthAdjust="spacing">Shifter</text><rect x="264.7" y="400.2" width="96.30000000000001" height="61.80000000000001" stroke="#ffcc00" stroke-width="1.8"/><text x="279.3" y="462.5" font-size="10.5" text-anchor="start" font-weight="normal" fill="#ffcc00" stroke="#ffcc00" stroke-width="0.35" stroke-linejoin="round">G</text><text x="339.3" y="462.5" font-size="10.5" text-anchor="start" font-weight="normal" fill="#ffcc00" stroke="#ffcc00" stroke-width="0.35" stroke-linejoin="round">06</text><polyline points="154,447.3 221.5,447.3 247.2,472 247.2,539.5 221.5,564.4 154,564.4 128.4,539.5 128.4,472 154,447.3" stroke="#ffcc00" stroke-width="1.8"/><path d="M240.3 505.8A52.5 52.5 0 1 1 135.3 505.8A52.5 52.5 0 1 1 240.3 505.8Z" stroke="#ffcc00" stroke-width="1.8"/><path d="M172.5 506H203M187.7 491V521" stroke="#ffcc00" stroke-width="2"/><path d="M187.7 487.5L182.5 494L192.9 494ZM187.7 524.5L182.5 518L192.9 518ZM169 506L175.5 500.8L175.5 511.2ZM206.4 506L199.9 500.8L199.9 511.2Z" fill="#ffcc00" stroke="none"/><text x="184.4" y="442.8" font-size="12" text-anchor="start" font-weight="normal" fill="#ffcc00" stroke="#ffcc00" stroke-width="0.35" stroke-linejoin="round">J5</text><text x="170" y="464" font-size="10.5" text-anchor="start" font-weight="normal" fill="#ffcc00" stroke="#ffcc00" stroke-width="0.35" stroke-linejoin="round">G</text><text x="200.7" y="465" font-size="10.5" text-anchor="start" font-weight="normal" fill="#ffcc00" stroke="#ffcc00" stroke-width="0.35" stroke-linejoin="round">014</text><text x="138" y="488" font-size="10.5" text-anchor="start" font-weight="normal" fill="#ffcc00" stroke="#ffcc00" stroke-width="0.35" stroke-linejoin="round">013</text><text x="224.6" y="488" font-size="10.5" text-anchor="start" font-weight="normal" fill="#ffcc00" stroke="#ffcc00" stroke-width="0.35" stroke-linejoin="round">EnB-D6</text><text x="185" y="483.5" font-size="10.5" text-anchor="start" font-weight="normal" fill="#ffcc00" stroke="#ffcc00" stroke-width="0.35" stroke-linejoin="round">A</text><text x="158.6" y="510" font-size="10.5" text-anchor="start" font-weight="normal" fill="#ffcc00" stroke="#ffcc00" stroke-width="0.35" stroke-linejoin="round">B</text><text x="211" y="510" font-size="10.5" text-anchor="start" font-weight="normal" fill="#ffcc00" stroke="#ffcc00" stroke-width="0.35" stroke-linejoin="round">D</text><text x="185" y="535.7" font-size="10.5" text-anchor="start" font-weight="normal" fill="#ffcc00" stroke="#ffcc00" stroke-width="0.35" stroke-linejoin="round">C</text><text x="220.8" y="517" font-size="10.5" text-anchor="start" font-weight="normal" fill="#ffcc00" stroke="#ffcc00" stroke-width="0.35" stroke-linejoin="round">012</text><text x="131.7" y="533" font-size="10.5" text-anchor="start" font-weight="normal" fill="#ffcc00" stroke="#ffcc00" stroke-width="0.35" stroke-linejoin="round">EnA-D7</text><text x="214.5" y="537" font-size="10.5" text-anchor="start" font-weight="normal" fill="#ffcc00" stroke="#ffcc00" stroke-width="0.35" stroke-linejoin="round">G</text><text x="205.8" y="557" font-size="10.5" text-anchor="start" font-weight="normal" fill="#ffcc00" stroke="#ffcc00" stroke-width="0.35" stroke-linejoin="round">00</text><text x="174.9" y="578" font-size="10.5" text-anchor="start" font-weight="normal" fill="#ffcc00" stroke="#ffcc00" stroke-width="0.35" stroke-linejoin="round">01</text><rect x="208.7" y="599.7" width="97.19999999999999" height="62.19999999999993" stroke="#ffcc00" stroke-width="1.8"/><text x="223" y="659" font-size="10.5" text-anchor="start" font-weight="normal" fill="#ffcc00" stroke="#ffcc00" stroke-width="0.35" stroke-linejoin="round">G</text><text x="282.4" y="659" font-size="10.5" text-anchor="start" font-weight="normal" fill="#ffcc00" stroke="#ffcc00" stroke-width="0.35" stroke-linejoin="round">07</text><text x="328" y="640" font-size="21" text-anchor="start" font-weight="normal" fill="#ffcc00" stroke="#ffcc00" stroke-width="0.5" stroke-linejoin="round">V5</text><text x="24.3" y="715.5" font-size="12" text-anchor="start" font-weight="normal" fill="#ffcc00" stroke="#ffcc00" stroke-width="0.35" stroke-linejoin="round">4</text><rect x="428.3" y="515.9" width="27.2" height="27.2" fill="#ffcc00" stroke="none"/><rect x="482.4" y="515.9" width="27.2" height="27.2" fill="#ffcc00" stroke="none"/><rect x="455.4" y="542.9" width="27.2" height="27.2" fill="#ffcc00" stroke="none"/><rect x="509.6" y="542.9" width="27.2" height="27.2" fill="#ffcc00" stroke="none"/><path d="M611.4 488.5H632.8A5.5 5.5 0 0 0 643.8 488.5H664.7V596.7H611.4Z" stroke="#ffcc00" stroke-width="1.6"/><circle cx="617" cy="494.4" r="1.9" fill="#ffcc00" stroke="none"/><text x="595" y="496.90000000000003" font-size="6" text-anchor="end" font-weight="normal" fill="#ffcc00" stroke="#ffcc00" stroke-width="0.25" stroke-linejoin="round">INT</text><text x="595" y="505.8" font-size="6" text-anchor="end" font-weight="normal" fill="#ffcc00" stroke="#ffcc00" stroke-width="0.25" stroke-linejoin="round">A1</text><text x="595" y="514.3000000000001" font-size="6" text-anchor="end" font-weight="normal" fill="#ffcc00" stroke="#ffcc00" stroke-width="0.25" stroke-linejoin="round">A2</text><text x="595" y="523.0" font-size="6" text-anchor="end" font-weight="normal" fill="#ffcc00" stroke="#ffcc00" stroke-width="0.25" stroke-linejoin="round">00</text><text x="595" y="531.7" font-size="6" text-anchor="end" font-weight="normal" fill="#ffcc00" stroke="#ffcc00" stroke-width="0.25" stroke-linejoin="round">01</text><text x="595" y="540.4" font-size="6" text-anchor="end" font-weight="normal" fill="#ffcc00" stroke="#ffcc00" stroke-width="0.25" stroke-linejoin="round">02</text><text x="595" y="549.2" font-size="6" text-anchor="end" font-weight="normal" fill="#ffcc00" stroke="#ffcc00" stroke-width="0.25" stroke-linejoin="round">03</text><text x="595" y="557.9" font-size="6" text-anchor="end" font-weight="normal" fill="#ffcc00" stroke="#ffcc00" stroke-width="0.25" stroke-linejoin="round">04</text><text x="595" y="566.8000000000001" font-size="6" text-anchor="end" font-weight="normal" fill="#ffcc00" stroke="#ffcc00" stroke-width="0.25" stroke-linejoin="round">05</text><text x="595" y="575.5" font-size="6" text-anchor="end" font-weight="normal" fill="#ffcc00" stroke="#ffcc00" stroke-width="0.25" stroke-linejoin="round">06</text><text x="595" y="584.4" font-size="6" text-anchor="end" font-weight="normal" fill="#ffcc00" stroke="#ffcc00" stroke-width="0.25" stroke-linejoin="round">07</text><text x="595" y="593.3000000000001" font-size="6" text-anchor="end" font-weight="normal" fill="#ffcc00" stroke="#ffcc00" stroke-width="0.25" stroke-linejoin="round">G</text><text x="681" y="496.90000000000003" font-size="6" text-anchor="start" font-weight="normal" fill="#ffcc00" stroke="#ffcc00" stroke-width="0.25" stroke-linejoin="round">V</text><text x="681" y="505.8" font-size="6" text-anchor="start" font-weight="normal" fill="#ffcc00" stroke="#ffcc00" stroke-width="0.25" stroke-linejoin="round">SDA-D2</text><text x="681" y="514.3000000000001" font-size="6" text-anchor="start" font-weight="normal" fill="#ffcc00" stroke="#ffcc00" stroke-width="0.25" stroke-linejoin="round">SCL-D3</text><text x="681" y="523.0" font-size="6" text-anchor="start" font-weight="normal" fill="#ffcc00" stroke="#ffcc00" stroke-width="0.25" stroke-linejoin="round">A0</text><text x="681" y="531.7" font-size="6" text-anchor="start" font-weight="normal" fill="#ffcc00" stroke="#ffcc00" stroke-width="0.25" stroke-linejoin="round">15</text><text x="681" y="540.4" font-size="6" text-anchor="start" font-weight="normal" fill="#ffcc00" stroke="#ffcc00" stroke-width="0.25" stroke-linejoin="round">14</text><text x="681" y="549.2" font-size="6" text-anchor="start" font-weight="normal" fill="#ffcc00" stroke="#ffcc00" stroke-width="0.25" stroke-linejoin="round">13</text><text x="681" y="557.9" font-size="6" text-anchor="start" font-weight="normal" fill="#ffcc00" stroke="#ffcc00" stroke-width="0.25" stroke-linejoin="round">12</text><text x="681" y="566.8000000000001" font-size="6" text-anchor="start" font-weight="normal" fill="#ffcc00" stroke="#ffcc00" stroke-width="0.25" stroke-linejoin="round">11</text><text x="681" y="575.5" font-size="6" text-anchor="start" font-weight="normal" fill="#ffcc00" stroke="#ffcc00" stroke-width="0.25" stroke-linejoin="round">10</text><text x="681" y="584.4" font-size="6" text-anchor="start" font-weight="normal" fill="#ffcc00" stroke="#ffcc00" stroke-width="0.25" stroke-linejoin="round">09</text><text x="681" y="593.3000000000001" font-size="6" text-anchor="start" font-weight="normal" fill="#ffcc00" stroke="#ffcc00" stroke-width="0.25" stroke-linejoin="round">08</text><rect x="734.3" y="340.6" width="227.70000000000005" height="126.09999999999997" stroke="#ffcc00" stroke-width="1.8"/><text x="763.5" y="374.3" font-size="8.8" text-anchor="start" font-weight="normal" fill="#ffcc00" stroke="#ffcc00" stroke-width="0.35" stroke-linejoin="round" transform="rotate(-90 763.5 374.3)" textLength="16.8" lengthAdjust="spacingAndGlyphs">RAW</text><text x="780.6999999999999" y="374.3" font-size="8.8" text-anchor="start" font-weight="normal" fill="#ffcc00" stroke="#ffcc00" stroke-width="0.35" stroke-linejoin="round" transform="rotate(-90 780.6999999999999 374.3)" textLength="16.8" lengthAdjust="spacingAndGlyphs">GND</text><text x="798.6999999999999" y="374.3" font-size="8.8" text-anchor="start" font-weight="normal" fill="#ffcc00" stroke="#ffcc00" stroke-width="0.35" stroke-linejoin="round" transform="rotate(-90 798.6999999999999 374.3)" textLength="16.8" lengthAdjust="spacingAndGlyphs">RST</text><text x="815.9" y="374.3" font-size="8.8" text-anchor="start" font-weight="normal" fill="#ffcc00" stroke="#ffcc00" stroke-width="0.35" stroke-linejoin="round" transform="rotate(-90 815.9 374.3)" textLength="11.2" lengthAdjust="spacingAndGlyphs">5V</text><text x="833.5999999999999" y="374.3" font-size="8.8" text-anchor="start" font-weight="normal" fill="#ffcc00" stroke="#ffcc00" stroke-width="0.35" stroke-linejoin="round" transform="rotate(-90 833.5999999999999 374.3)" textLength="11.2" lengthAdjust="spacingAndGlyphs">A3</text><text x="851.3" y="374.3" font-size="8.8" text-anchor="start" font-weight="normal" fill="#ffcc00" stroke="#ffcc00" stroke-width="0.35" stroke-linejoin="round" transform="rotate(-90 851.3 374.3)" textLength="11.2" lengthAdjust="spacingAndGlyphs">A2</text><text x="868.5" y="374.3" font-size="8.8" text-anchor="start" font-weight="normal" fill="#ffcc00" stroke="#ffcc00" stroke-width="0.35" stroke-linejoin="round" transform="rotate(-90 868.5 374.3)" textLength="11.2" lengthAdjust="spacingAndGlyphs">A1</text><text x="885.9" y="374.3" font-size="8.8" text-anchor="start" font-weight="normal" fill="#ffcc00" stroke="#ffcc00" stroke-width="0.35" stroke-linejoin="round" transform="rotate(-90 885.9 374.3)" textLength="11.2" lengthAdjust="spacingAndGlyphs">A0</text><text x="903.5999999999999" y="374.3" font-size="8.8" text-anchor="start" font-weight="normal" fill="#ffcc00" stroke="#ffcc00" stroke-width="0.35" stroke-linejoin="round" transform="rotate(-90 903.5999999999999 374.3)" textLength="16.8" lengthAdjust="spacingAndGlyphs">D15</text><text x="920.8" y="374.3" font-size="8.8" text-anchor="start" font-weight="normal" fill="#ffcc00" stroke="#ffcc00" stroke-width="0.35" stroke-linejoin="round" transform="rotate(-90 920.8 374.3)" textLength="16.8" lengthAdjust="spacingAndGlyphs">D14</text><text x="938.5" y="374.3" font-size="8.8" text-anchor="start" font-weight="normal" fill="#ffcc00" stroke="#ffcc00" stroke-width="0.35" stroke-linejoin="round" transform="rotate(-90 938.5 374.3)" textLength="16.8" lengthAdjust="spacingAndGlyphs">D16</text><text x="955.9" y="374.3" font-size="8.8" text-anchor="start" font-weight="normal" fill="#ffcc00" stroke="#ffcc00" stroke-width="0.35" stroke-linejoin="round" transform="rotate(-90 955.9 374.3)" textLength="16.8" lengthAdjust="spacingAndGlyphs">D10</text><text x="763.5" y="449.5" font-size="8.8" text-anchor="start" font-weight="normal" fill="#ffcc00" stroke="#ffcc00" stroke-width="0.35" stroke-linejoin="round" transform="rotate(-90 763.5 449.5)" textLength="11.2" lengthAdjust="spacingAndGlyphs">TX</text><text x="780.6999999999999" y="449.5" font-size="8.8" text-anchor="start" font-weight="normal" fill="#ffcc00" stroke="#ffcc00" stroke-width="0.35" stroke-linejoin="round" transform="rotate(-90 780.6999999999999 449.5)" textLength="11.2" lengthAdjust="spacingAndGlyphs">RX</text><text x="798.6999999999999" y="449.5" font-size="8.8" text-anchor="start" font-weight="normal" fill="#ffcc00" stroke="#ffcc00" stroke-width="0.35" stroke-linejoin="round" transform="rotate(-90 798.6999999999999 449.5)" textLength="16.8" lengthAdjust="spacingAndGlyphs">GND</text><text x="815.9" y="449.5" font-size="8.8" text-anchor="start" font-weight="normal" fill="#ffcc00" stroke="#ffcc00" stroke-width="0.35" stroke-linejoin="round" transform="rotate(-90 815.9 449.5)" textLength="16.8" lengthAdjust="spacingAndGlyphs">GND</text><text x="833.5999999999999" y="449.5" font-size="8.8" text-anchor="start" font-weight="normal" fill="#ffcc00" stroke="#ffcc00" stroke-width="0.35" stroke-linejoin="round" transform="rotate(-90 833.5999999999999 449.5)" textLength="28.0" lengthAdjust="spacingAndGlyphs">D2SDA</text><text x="851.3" y="449.5" font-size="8.8" text-anchor="start" font-weight="normal" fill="#ffcc00" stroke="#ffcc00" stroke-width="0.35" stroke-linejoin="round" transform="rotate(-90 851.3 449.5)" textLength="28.0" lengthAdjust="spacingAndGlyphs">D3SCL</text><text x="868.5" y="449.5" font-size="8.8" text-anchor="start" font-weight="normal" fill="#ffcc00" stroke="#ffcc00" stroke-width="0.35" stroke-linejoin="round" transform="rotate(-90 868.5 449.5)" textLength="11.2" lengthAdjust="spacingAndGlyphs">D4</text><text x="885.9" y="449.5" font-size="8.8" text-anchor="start" font-weight="normal" fill="#ffcc00" stroke="#ffcc00" stroke-width="0.35" stroke-linejoin="round" transform="rotate(-90 885.9 449.5)" textLength="11.2" lengthAdjust="spacingAndGlyphs">D5</text><text x="903.5999999999999" y="449.5" font-size="8.8" text-anchor="start" font-weight="normal" fill="#ffcc00" stroke="#ffcc00" stroke-width="0.35" stroke-linejoin="round" transform="rotate(-90 903.5999999999999 449.5)" textLength="11.2" lengthAdjust="spacingAndGlyphs">D6</text><text x="920.8" y="449.5" font-size="8.8" text-anchor="start" font-weight="normal" fill="#ffcc00" stroke="#ffcc00" stroke-width="0.35" stroke-linejoin="round" transform="rotate(-90 920.8 449.5)" textLength="11.2" lengthAdjust="spacingAndGlyphs">D7</text><text x="938.5" y="449.5" font-size="8.8" text-anchor="start" font-weight="normal" fill="#ffcc00" stroke="#ffcc00" stroke-width="0.35" stroke-linejoin="round" transform="rotate(-90 938.5 449.5)" textLength="11.2" lengthAdjust="spacingAndGlyphs">D8</text><text x="955.9" y="449.5" font-size="8.8" text-anchor="start" font-weight="normal" fill="#ffcc00" stroke="#ffcc00" stroke-width="0.35" stroke-linejoin="round" transform="rotate(-90 955.9 449.5)" textLength="11.2" lengthAdjust="spacingAndGlyphs">D9</text><rect x="718.5" y="377.1" width="40.39999999999998" height="52.599999999999966" stroke="#ffcc00" stroke-width="1.5"/><rect x="722.7" y="381.3" width="12.399999999999977" height="4.699999999999989" stroke="#ffcc00" stroke-width="1.3"/><rect x="722.7" y="421" width="12.399999999999977" height="4.699999999999989" stroke="#ffcc00" stroke-width="1.3"/><rect x="778.7" y="199.2" width="40.5" height="85.40000000000003" stroke="#ffcc00" stroke-width="1.8"/><text x="789.5" y="219.4" font-size="9" text-anchor="start" font-weight="normal" fill="#ffcc00" stroke="#ffcc00" stroke-width="0.35" stroke-linejoin="round" transform="rotate(-90 789.5 219.4)">TR</text><text x="789.5" y="236.29999999999998" font-size="9" text-anchor="start" font-weight="normal" fill="#ffcc00" stroke="#ffcc00" stroke-width="0.35" stroke-linejoin="round" transform="rotate(-90 789.5 236.29999999999998)">W</text><text x="789.5" y="253.39999999999998" font-size="9" text-anchor="start" font-weight="normal" fill="#ffcc00" stroke="#ffcc00" stroke-width="0.35" stroke-linejoin="round" transform="rotate(-90 789.5 253.39999999999998)">G</text><text x="789.5" y="271.2" font-size="9" text-anchor="start" font-weight="normal" fill="#ffcc00" stroke="#ffcc00" stroke-width="0.35" stroke-linejoin="round" transform="rotate(-90 789.5 271.2)">B</text><text x="801.5" y="218" font-size="11" text-anchor="start" font-weight="normal" fill="#ffcc00" stroke="#ffcc00" stroke-width="0.35" stroke-linejoin="round">5V</text><text x="802.5" y="272" font-size="10.5" text-anchor="start" font-weight="normal" fill="#ffcc00" stroke="#ffcc00" stroke-width="0.35" stroke-linejoin="round" textLength="17.5" lengthAdjust="spacingAndGlyphs">Gnd</text><text x="856" y="297.5" font-size="41" text-anchor="start" font-weight="normal" fill="#ffcc00" stroke="#ffcc00" stroke-width="0.3" stroke-linejoin="round" transform="rotate(-90 856 297.5)" textLength="100.5" lengthAdjust="spacing">Micro</text><rect x="785.2" y="511.2" width="39.799999999999955" height="85.50000000000006" stroke="#ffcc00" stroke-width="1.8"/><text x="791.3" y="530.3000000000001" font-size="9" text-anchor="start" font-weight="normal" fill="#ffcc00" stroke="#ffcc00" stroke-width="0.35" stroke-linejoin="round" transform="rotate(-90 791.3 530.3000000000001)">G</text><text x="791.3" y="548.0" font-size="9" text-anchor="start" font-weight="normal" fill="#ffcc00" stroke="#ffcc00" stroke-width="0.35" stroke-linejoin="round" transform="rotate(-90 791.3 548.0)">W</text><text x="791.3" y="566.0" font-size="9" text-anchor="start" font-weight="normal" fill="#ffcc00" stroke="#ffcc00" stroke-width="0.35" stroke-linejoin="round" transform="rotate(-90 791.3 566.0)">B</text><text x="791.3" y="582.9000000000001" font-size="9" text-anchor="start" font-weight="normal" fill="#ffcc00" stroke="#ffcc00" stroke-width="0.35" stroke-linejoin="round" transform="rotate(-90 791.3 582.9000000000001)">R</text><text x="809.7" y="566" font-size="10.5" text-anchor="start" font-weight="normal" fill="#ffcc00" stroke="#ffcc00" stroke-width="0.35" stroke-linejoin="round" textLength="17" lengthAdjust="spacingAndGlyphs">Gnd</text><text x="809.7" y="584" font-size="11" text-anchor="start" font-weight="normal" fill="#ffcc00" stroke="#ffcc00" stroke-width="0.35" stroke-linejoin="round">5V</text><text x="861.5" y="601.5" font-size="41" text-anchor="start" font-weight="normal" fill="#ffcc00" stroke="#ffcc00" stroke-width="0.3" stroke-linejoin="round" transform="rotate(-90 861.5 601.5)" textLength="99" lengthAdjust="spacing">Cable</text><rect x="1086.8" y="289.3" width="50.90000000000009" height="39.39999999999998" stroke="#ffcc00" stroke-width="1.8"/><text x="1095.6" y="309.9" font-size="11" text-anchor="start" font-weight="normal" fill="#ffcc00" stroke="#ffcc00" stroke-width="0.35" stroke-linejoin="round">D10</text><text x="1121.9" y="309.9" font-size="11" text-anchor="start" font-weight="normal" fill="#ffcc00" stroke="#ffcc00" stroke-width="0.35" stroke-linejoin="round">G</text><text x="1081.3" y="348.8" font-size="21" text-anchor="start" font-weight="normal" fill="#ffcc00" stroke="#ffcc00" stroke-width="0.5" stroke-linejoin="round" textLength="65.5" lengthAdjust="spacing">Shifter</text><rect x="1207.3" y="266" width="92.70000000000005" height="62" stroke="#ffcc00" stroke-width="1.8"/><text x="1216" y="320" font-size="10.5" text-anchor="start" font-weight="normal" fill="#ffcc00" stroke="#ffcc00" stroke-width="0.35" stroke-linejoin="round">D15</text><rect x="1019.8" y="400.3" width="97.10000000000014" height="62.0" stroke="#ffcc00" stroke-width="1.8"/><text x="1029.5" y="406.6" font-size="10.5" text-anchor="start" font-weight="normal" fill="#ffcc00" stroke="#ffcc00" stroke-width="0.35" stroke-linejoin="round">015</text><text x="1092.5" y="406.6" font-size="10.5" text-anchor="start" font-weight="normal" fill="#ffcc00" stroke="#ffcc00" stroke-width="0.35" stroke-linejoin="round">G</text><polyline points="1160.8,447.5 1227.3,447.5 1253.7,472.6 1253.7,537.4 1226.6,564.5 1155.3,564.5 1134.5,537.4 1134.5,472.6 1160.8,447.5" stroke="#ffcc00" stroke-width="1.8"/><path d="M1246.5 506A52.3 52.3 0 1 1 1141.9 506A52.3 52.3 0 1 1 1246.5 506Z" stroke="#ffcc00" stroke-width="1.8"/><path d="M1179 506.1H1209.6M1194.4 491V521" stroke="#ffcc00" stroke-width="2"/><path d="M1194.4 487.5L1189.2 494L1199.6 494ZM1194.4 524.5L1189.2 518L1199.6 518ZM1175.7 506.1L1182.2 500.9L1182.2 511.3ZM1213.1 506.1L1206.6 500.9L1206.6 511.3Z" fill="#ffcc00" stroke="none"/><text x="1202.2" y="440.5" font-size="11" text-anchor="start" font-weight="normal" fill="#ffcc00" stroke="#ffcc00" stroke-width="0.35" stroke-linejoin="round">TX</text><text x="1189" y="482.6" font-size="10.5" text-anchor="start" font-weight="normal" fill="#ffcc00" stroke="#ffcc00" stroke-width="0.35" stroke-linejoin="round">A</text><text x="1149.5" y="497" font-size="11" text-anchor="start" font-weight="normal" fill="#ffcc00" stroke="#ffcc00" stroke-width="0.35" stroke-linejoin="round">RX</text><text x="1214.8" y="487.7" font-size="10.5" text-anchor="start" font-weight="normal" fill="#ffcc00" stroke="#ffcc00" stroke-width="0.35" stroke-linejoin="round">EnB-D5</text><text x="1161.5" y="510" font-size="10.5" text-anchor="start" font-weight="normal" fill="#ffcc00" stroke="#ffcc00" stroke-width="0.35" stroke-linejoin="round">B</text><text x="1216.5" y="510" font-size="10.5" text-anchor="start" font-weight="normal" fill="#ffcc00" stroke="#ffcc00" stroke-width="0.35" stroke-linejoin="round">D</text><text x="1228.4" y="510" font-size="10.5" text-anchor="start" font-weight="normal" fill="#ffcc00" stroke="#ffcc00" stroke-width="0.35" stroke-linejoin="round">09</text><text x="1138.4" y="530" font-size="10.5" text-anchor="start" font-weight="normal" fill="#ffcc00" stroke="#ffcc00" stroke-width="0.35" stroke-linejoin="round">EnA-D4</text><text x="1188.5" y="535" font-size="10.5" text-anchor="start" font-weight="normal" fill="#ffcc00" stroke="#ffcc00" stroke-width="0.35" stroke-linejoin="round">C</text><text x="1166" y="552.6" font-size="10.5" text-anchor="start" font-weight="normal" fill="#ffcc00" stroke="#ffcc00" stroke-width="0.35" stroke-linejoin="round">011</text><text x="1204.6" y="566" font-size="10.5" text-anchor="start" font-weight="normal" fill="#ffcc00" stroke="#ffcc00" stroke-width="0.35" stroke-linejoin="round">010</text><rect x="1072.1" y="623.9" width="82.20000000000005" height="82.60000000000002" stroke="#ffcc00" stroke-width="1.8"/><circle cx="1112.9" cy="664.7" r="30.6" stroke="#ffcc00" stroke-width="1.6"/><circle cx="1112.9" cy="664.7" r="25.5" stroke="#ffcc00" stroke-width="1.6"/><circle cx="1112.9" cy="664.7" r="20.4" stroke="#ffcc00" stroke-width="1.6"/><text x="1077.5" y="632" font-size="10.5" text-anchor="start" font-weight="normal" fill="#ffcc00" stroke="#ffcc00" stroke-width="0.35" stroke-linejoin="round">B-D8</text><text x="1119.7" y="632" font-size="10.5" text-anchor="start" font-weight="normal" fill="#ffcc00" stroke="#ffcc00" stroke-width="0.35" stroke-linejoin="round">A-D9</text><text x="1140" y="715.5" font-size="11" text-anchor="start" font-weight="normal" fill="#ffcc00" stroke="#ffcc00" stroke-width="0.35" stroke-linejoin="round">08</text><circle cx="89" cy="459" r="1" fill="#ffcc00" stroke="none"/></g><g fill="none"><rect x="147" y="112.7" width="14.5" height="28.5" fill="#6e6e6e" stroke="#5a1a6a" stroke-width="0.7"/><rect x="150.91" y="117.40" width="6.67" height="19.10" rx="3.33" fill="#262626" stroke="none"/><rect x="178.9" y="112.7" width="14.5" height="28.5" fill="#6e6e6e" stroke="#5a1a6a" stroke-width="0.7"/><rect x="182.81" y="117.40" width="6.67" height="19.10" rx="3.33" fill="#262626" stroke="none"/><rect x="210.8" y="112.7" width="14.5" height="28.5" fill="#6e6e6e" stroke="#5a1a6a" stroke-width="0.7"/><rect x="214.72" y="117.40" width="6.67" height="19.10" rx="3.33" fill="#262626" stroke="none"/><path d="M124.8 195.3L129.5 200.0M151.0 195.3L146.3 200.0M124.8 221.5L129.5 216.8M151.0 221.5L146.3 216.8" stroke="#8a8a8a" stroke-width="1"/><circle cx="137.9" cy="208.4" r="10.5" fill="#2c2c2c" stroke="#555" stroke-width="0.8"/><rect x="88.3" y="282.4" width="14.5" height="28.5" fill="#6e6e6e" stroke="#5a1a6a" stroke-width="0.7"/><rect x="92.22" y="287.10" width="6.67" height="19.10" rx="3.33" fill="#262626" stroke="none"/><rect x="120.4" y="282.4" width="14.5" height="28.5" fill="#6e6e6e" stroke="#5a1a6a" stroke-width="0.7"/><rect x="124.32" y="287.10" width="6.67" height="19.10" rx="3.33" fill="#262626" stroke="none"/><rect x="152.3" y="282.4" width="14.5" height="28.5" fill="#6e6e6e" stroke="#5a1a6a" stroke-width="0.7"/><rect x="156.22" y="287.10" width="6.67" height="19.10" rx="3.33" fill="#262626" stroke="none"/><circle cx="257.3" cy="317.8" r="6" fill="#6e6e6e" stroke="#5a1a6a" stroke-width="0.7"/><circle cx="257.3" cy="317.8" r="2.9" fill="#2a2a2a" stroke="none"/><circle cx="274.6" cy="317.8" r="6" fill="#6e6e6e" stroke="#5a1a6a" stroke-width="0.7"/><circle cx="274.6" cy="317.8" r="2.9" fill="#2a2a2a" stroke="none"/><path d="M146.2 396.3L150.9 401.0M172.4 396.3L167.7 401.0M146.2 422.5L150.9 417.8M172.4 422.5L167.7 417.8" stroke="#8a8a8a" stroke-width="1"/><circle cx="159.3" cy="409.4" r="10.5" fill="#2c2c2c" stroke="#555" stroke-width="0.8"/><rect x="274" y="417.2" width="14.5" height="28.5" fill="#6e6e6e" stroke="#5a1a6a" stroke-width="0.7"/><rect x="277.92" y="421.90" width="6.67" height="19.10" rx="3.33" fill="#262626" stroke="none"/><rect x="306" y="417.2" width="14.5" height="28.5" fill="#6e6e6e" stroke="#5a1a6a" stroke-width="0.7"/><rect x="309.92" y="421.90" width="6.67" height="19.10" rx="3.33" fill="#262626" stroke="none"/><rect x="338" y="417.2" width="14.5" height="28.5" fill="#6e6e6e" stroke="#5a1a6a" stroke-width="0.7"/><rect x="341.92" y="421.90" width="6.67" height="19.10" rx="3.33" fill="#262626" stroke="none"/><path d="M156.0 511.0L157.8 512.8M166.0 511.0L164.2 512.8M156.0 521.0L157.8 519.2M166.0 521.0L164.2 519.2" stroke="#8a8a8a" stroke-width="1"/><circle cx="161" cy="516" r="4" fill="#2c2c2c" stroke="#555" stroke-width="0.8"/><circle cx="176.9" cy="452.4" r="5.5" fill="#6e6e6e" stroke="#5a1a6a" stroke-width="0.7"/><circle cx="176.9" cy="452.4" r="3.3" fill="#2a2a2a" stroke="none"/><circle cx="197.7" cy="452.4" r="5.5" fill="#6e6e6e" stroke="#5a1a6a" stroke-width="0.7"/><circle cx="197.7" cy="452.4" r="3.3" fill="#2a2a2a" stroke="none"/><circle cx="180.6" cy="465.9" r="5.5" fill="#6e6e6e" stroke="#5a1a6a" stroke-width="0.7"/><circle cx="180.6" cy="465.9" r="3.3" fill="#2a2a2a" stroke="none"/><circle cx="133.5" cy="495.5" r="5.5" fill="#6e6e6e" stroke="#5a1a6a" stroke-width="0.7"/><circle cx="133.5" cy="495.5" r="3.3" fill="#2a2a2a" stroke="none"/><circle cx="133.5" cy="516.1" r="5.5" fill="#6e6e6e" stroke="#5a1a6a" stroke-width="0.7"/><circle cx="133.5" cy="516.1" r="3.3" fill="#2a2a2a" stroke="none"/><circle cx="240.9" cy="495.5" r="5.5" fill="#6e6e6e" stroke="#5a1a6a" stroke-width="0.7"/><circle cx="240.9" cy="495.5" r="3.3" fill="#2a2a2a" stroke="none"/><circle cx="240.9" cy="516.1" r="5.5" fill="#6e6e6e" stroke="#5a1a6a" stroke-width="0.7"/><circle cx="240.9" cy="516.1" r="3.3" fill="#2a2a2a" stroke="none"/><circle cx="234.6" cy="532" r="5.5" fill="#6e6e6e" stroke="#5a1a6a" stroke-width="0.7"/><circle cx="234.6" cy="532" r="3.3" fill="#2a2a2a" stroke="none"/><circle cx="176.9" cy="559.5" r="5.5" fill="#6e6e6e" stroke="#5a1a6a" stroke-width="0.7"/><circle cx="176.9" cy="559.5" r="3.3" fill="#2a2a2a" stroke="none"/><circle cx="194" cy="553.8" r="5.5" fill="#6e6e6e" stroke="#5a1a6a" stroke-width="0.7"/><circle cx="194" cy="553.8" r="3.3" fill="#2a2a2a" stroke="none"/><path d="M171.8 582.2L176.5 586.9M198.0 582.2L193.3 586.9M171.8 608.4L176.5 603.7M198.0 608.4L193.3 603.7" stroke="#8a8a8a" stroke-width="1"/><circle cx="184.9" cy="595.3" r="10.5" fill="#2c2c2c" stroke="#555" stroke-width="0.8"/><path d="M228.6 686.1L233.3 690.8M254.8 686.1L250.1 690.8M228.6 712.3L233.3 707.6M254.8 712.3L250.1 707.6" stroke="#8a8a8a" stroke-width="1"/><circle cx="241.7" cy="699.2" r="10.5" fill="#2c2c2c" stroke="#555" stroke-width="0.8"/><rect x="217.9" y="616.9" width="14.5" height="28.5" fill="#6e6e6e" stroke="#5a1a6a" stroke-width="0.7"/><rect x="221.81" y="621.60" width="6.67" height="19.10" rx="3.33" fill="#262626" stroke="none"/><rect x="249.4" y="616.9" width="14.5" height="28.5" fill="#6e6e6e" stroke="#5a1a6a" stroke-width="0.7"/><rect x="253.31" y="621.60" width="6.67" height="19.10" rx="3.33" fill="#262626" stroke="none"/><rect x="281.5" y="616.9" width="14.5" height="28.5" fill="#6e6e6e" stroke="#5a1a6a" stroke-width="0.7"/><rect x="285.42" y="621.60" width="6.67" height="19.10" rx="3.33" fill="#262626" stroke="none"/><path d="M457.5 169.0L462.2 173.7M483.7 169.0L479.0 173.7M457.5 195.2L462.2 190.5M483.7 195.2L479.0 190.5" stroke="#8a8a8a" stroke-width="1"/><circle cx="470.6" cy="182.1" r="10.5" fill="#2c2c2c" stroke="#555" stroke-width="0.8"/><circle cx="427.8" cy="334.5" r="2.1" fill="#000" stroke="#7a7a7a" stroke-width="0.85"/><circle cx="443.7" cy="334.5" r="2.1" fill="#000" stroke="#7a7a7a" stroke-width="0.85"/><circle cx="485.7" cy="464.8" r="2.1" fill="#000" stroke="#7a7a7a" stroke-width="0.85"/><circle cx="581.6" cy="464.8" r="2.1" fill="#000" stroke="#7a7a7a" stroke-width="0.85"/><circle cx="485.7" cy="472" r="2.1" fill="#000" stroke="#7a7a7a" stroke-width="0.85"/><circle cx="573.2" cy="472" r="2.1" fill="#000" stroke="#7a7a7a" stroke-width="0.85"/><circle cx="524.8" cy="521" r="2.1" fill="#000" stroke="#7a7a7a" stroke-width="0.85"/><circle cx="524.8" cy="529.6" r="2.1" fill="#000" stroke="#7a7a7a" stroke-width="0.85"/><circle cx="720.6" cy="494.8" r="2.1" fill="#000" stroke="#7a7a7a" stroke-width="0.85"/><circle cx="648.4" cy="538.8" r="2.1" fill="#000" stroke="#7a7a7a" stroke-width="0.85"/><circle cx="638.8" cy="547.1" r="2.1" fill="#000" stroke="#7a7a7a" stroke-width="0.85"/><circle cx="630" cy="555.8" r="2.1" fill="#000" stroke="#7a7a7a" stroke-width="0.85"/><circle cx="699.3" cy="538.4" r="2.1" fill="#000" stroke="#7a7a7a" stroke-width="0.85"/><circle cx="708.9" cy="551.4" r="2.1" fill="#000" stroke="#7a7a7a" stroke-width="0.85"/><circle cx="690.6" cy="581.4" r="2.1" fill="#000" stroke="#7a7a7a" stroke-width="0.85"/><circle cx="715" cy="606" r="2.1" fill="#000" stroke="#7a7a7a" stroke-width="0.85"/><path d="M897.8 169.0L902.5 173.7M924.0 169.0L919.3 173.7M897.8 195.2L902.5 190.5M924.0 195.2L919.3 190.5" stroke="#8a8a8a" stroke-width="1"/><circle cx="910.9" cy="182.1" r="10.5" fill="#2c2c2c" stroke="#555" stroke-width="0.8"/><circle cx="790.2" cy="414.7" r="1.9" fill="#000" stroke="#7a7a7a" stroke-width="0.85"/><circle cx="699" cy="303.1" r="1.9" fill="#000" stroke="#7a7a7a" stroke-width="0.85"/><circle cx="690.3" cy="401.7" r="1.9" fill="#000" stroke="#7a7a7a" stroke-width="0.85"/><circle cx="747.3" cy="375.8" r="1.9" fill="#000" stroke="#7a7a7a" stroke-width="0.85"/><circle cx="769" cy="560" r="1.9" fill="#000" stroke="#7a7a7a" stroke-width="0.85"/><circle cx="679.6" cy="423.1" r="1.9" fill="#000" stroke="#7a7a7a" stroke-width="0.85"/><circle cx="673" cy="431.8" r="1.9" fill="#000" stroke="#7a7a7a" stroke-width="0.85"/><circle cx="891" cy="497" r="1.9" fill="#000" stroke="#7a7a7a" stroke-width="0.85"/><circle cx="709.6" cy="550.9" r="1.9" fill="#000" stroke="#7a7a7a" stroke-width="0.85"/><circle cx="865.7" cy="591.6" r="1.9" fill="#000" stroke="#7a7a7a" stroke-width="0.85"/><ellipse cx="760.2" cy="351.2" rx="5.2" ry="6.5" fill="#6e6e6e" stroke="#5a1a6a" stroke-width="0.7"/><circle cx="760.2" cy="351.2" r="3.4" fill="#2a2a2a" stroke="none"/><ellipse cx="760.2" cy="456.1" rx="5.2" ry="6.5" fill="#6e6e6e" stroke="#5a1a6a" stroke-width="0.7"/><circle cx="760.2" cy="456.1" r="3.4" fill="#2a2a2a" stroke="none"/><ellipse cx="777.4" cy="351.2" rx="5.2" ry="6.5" fill="#6e6e6e" stroke="#5a1a6a" stroke-width="0.7"/><circle cx="777.4" cy="351.2" r="3.4" fill="#2a2a2a" stroke="none"/><ellipse cx="777.4" cy="456.1" rx="5.2" ry="6.5" fill="#6e6e6e" stroke="#5a1a6a" stroke-width="0.7"/><circle cx="777.4" cy="456.1" r="3.4" fill="#2a2a2a" stroke="none"/><ellipse cx="795.4" cy="351.2" rx="5.2" ry="6.5" fill="#6e6e6e" stroke="#5a1a6a" stroke-width="0.7"/><circle cx="795.4" cy="351.2" r="3.4" fill="#2a2a2a" stroke="none"/><ellipse cx="795.4" cy="456.1" rx="5.2" ry="6.5" fill="#6e6e6e" stroke="#5a1a6a" stroke-width="0.7"/><circle cx="795.4" cy="456.1" r="3.4" fill="#2a2a2a" stroke="none"/><ellipse cx="812.6" cy="351.2" rx="5.2" ry="6.5" fill="#6e6e6e" stroke="#5a1a6a" stroke-width="0.7"/><circle cx="812.6" cy="351.2" r="3.4" fill="#2a2a2a" stroke="none"/><ellipse cx="812.6" cy="456.1" rx="5.2" ry="6.5" fill="#6e6e6e" stroke="#5a1a6a" stroke-width="0.7"/><circle cx="812.6" cy="456.1" r="3.4" fill="#2a2a2a" stroke="none"/><ellipse cx="830.3" cy="351.2" rx="5.2" ry="6.5" fill="#6e6e6e" stroke="#5a1a6a" stroke-width="0.7"/><circle cx="830.3" cy="351.2" r="3.4" fill="#2a2a2a" stroke="none"/><ellipse cx="830.3" cy="456.1" rx="5.2" ry="6.5" fill="#6e6e6e" stroke="#5a1a6a" stroke-width="0.7"/><circle cx="830.3" cy="456.1" r="3.4" fill="#2a2a2a" stroke="none"/><ellipse cx="848" cy="351.2" rx="5.2" ry="6.5" fill="#6e6e6e" stroke="#5a1a6a" stroke-width="0.7"/><circle cx="848" cy="351.2" r="3.4" fill="#2a2a2a" stroke="none"/><ellipse cx="848" cy="456.1" rx="5.2" ry="6.5" fill="#6e6e6e" stroke="#5a1a6a" stroke-width="0.7"/><circle cx="848" cy="456.1" r="3.4" fill="#2a2a2a" stroke="none"/><ellipse cx="865.2" cy="351.2" rx="5.2" ry="6.5" fill="#6e6e6e" stroke="#5a1a6a" stroke-width="0.7"/><circle cx="865.2" cy="351.2" r="3.4" fill="#2a2a2a" stroke="none"/><ellipse cx="865.2" cy="456.1" rx="5.2" ry="6.5" fill="#6e6e6e" stroke="#5a1a6a" stroke-width="0.7"/><circle cx="865.2" cy="456.1" r="3.4" fill="#2a2a2a" stroke="none"/><ellipse cx="882.6" cy="351.2" rx="5.2" ry="6.5" fill="#6e6e6e" stroke="#5a1a6a" stroke-width="0.7"/><circle cx="882.6" cy="351.2" r="3.4" fill="#2a2a2a" stroke="none"/><ellipse cx="882.6" cy="456.1" rx="5.2" ry="6.5" fill="#6e6e6e" stroke="#5a1a6a" stroke-width="0.7"/><circle cx="882.6" cy="456.1" r="3.4" fill="#2a2a2a" stroke="none"/><ellipse cx="900.3" cy="351.2" rx="5.2" ry="6.5" fill="#6e6e6e" stroke="#5a1a6a" stroke-width="0.7"/><circle cx="900.3" cy="351.2" r="3.4" fill="#2a2a2a" stroke="none"/><ellipse cx="900.3" cy="456.1" rx="5.2" ry="6.5" fill="#6e6e6e" stroke="#5a1a6a" stroke-width="0.7"/><circle cx="900.3" cy="456.1" r="3.4" fill="#2a2a2a" stroke="none"/><ellipse cx="917.5" cy="351.2" rx="5.2" ry="6.5" fill="#6e6e6e" stroke="#5a1a6a" stroke-width="0.7"/><circle cx="917.5" cy="351.2" r="3.4" fill="#2a2a2a" stroke="none"/><ellipse cx="917.5" cy="456.1" rx="5.2" ry="6.5" fill="#6e6e6e" stroke="#5a1a6a" stroke-width="0.7"/><circle cx="917.5" cy="456.1" r="3.4" fill="#2a2a2a" stroke="none"/><ellipse cx="935.2" cy="351.2" rx="5.2" ry="6.5" fill="#6e6e6e" stroke="#5a1a6a" stroke-width="0.7"/><circle cx="935.2" cy="351.2" r="3.4" fill="#2a2a2a" stroke="none"/><ellipse cx="935.2" cy="456.1" rx="5.2" ry="6.5" fill="#6e6e6e" stroke="#5a1a6a" stroke-width="0.7"/><circle cx="935.2" cy="456.1" r="3.4" fill="#2a2a2a" stroke="none"/><ellipse cx="952.6" cy="351.2" rx="5.2" ry="6.5" fill="#6e6e6e" stroke="#5a1a6a" stroke-width="0.7"/><circle cx="952.6" cy="351.2" r="3.4" fill="#2a2a2a" stroke="none"/><ellipse cx="952.6" cy="456.1" rx="5.2" ry="6.5" fill="#6e6e6e" stroke="#5a1a6a" stroke-width="0.7"/><circle cx="952.6" cy="456.1" r="3.4" fill="#2a2a2a" stroke="none"/><circle cx="795.4" cy="215.1" r="5.8" fill="#6e6e6e" stroke="#5a1a6a" stroke-width="0.7"/><circle cx="795.4" cy="215.1" r="3.1" fill="#2a2a2a" stroke="none"/><circle cx="795.4" cy="233.1" r="5.8" fill="#6e6e6e" stroke="#5a1a6a" stroke-width="0.7"/><circle cx="795.4" cy="233.1" r="3.1" fill="#2a2a2a" stroke="none"/><circle cx="795.4" cy="250.2" r="5.8" fill="#6e6e6e" stroke="#5a1a6a" stroke-width="0.7"/><circle cx="795.4" cy="250.2" r="3.1" fill="#2a2a2a" stroke="none"/><circle cx="795.4" cy="268" r="5.8" fill="#6e6e6e" stroke="#5a1a6a" stroke-width="0.7"/><circle cx="795.4" cy="268" r="3.1" fill="#2a2a2a" stroke="none"/><circle cx="801.2" cy="527.1" r="5.8" fill="#6e6e6e" stroke="#5a1a6a" stroke-width="0.7"/><circle cx="801.2" cy="527.1" r="3.1" fill="#2a2a2a" stroke="none"/><circle cx="801.2" cy="544.8" r="5.8" fill="#6e6e6e" stroke="#5a1a6a" stroke-width="0.7"/><circle cx="801.2" cy="544.8" r="3.1" fill="#2a2a2a" stroke="none"/><circle cx="801.2" cy="562.8" r="5.8" fill="#6e6e6e" stroke="#5a1a6a" stroke-width="0.7"/><circle cx="801.2" cy="562.8" r="3.1" fill="#2a2a2a" stroke="none"/><circle cx="801.2" cy="579.7" r="5.8" fill="#6e6e6e" stroke="#5a1a6a" stroke-width="0.7"/><circle cx="801.2" cy="579.7" r="3.1" fill="#2a2a2a" stroke="none"/><circle cx="1081.8" cy="205.2" r="1.9" fill="#000" stroke="#7a7a7a" stroke-width="0.85"/><path d="M1230.6 195.1L1235.3 199.8M1256.8 195.1L1252.1 199.8M1230.6 221.3L1235.3 216.6M1256.8 221.3L1252.1 216.6" stroke="#8a8a8a" stroke-width="1"/><circle cx="1243.7" cy="208.2" r="10.5" fill="#2c2c2c" stroke="#555" stroke-width="0.8"/><circle cx="1103.6" cy="318.7" r="6" fill="#6e6e6e" stroke="#5a1a6a" stroke-width="0.7"/><circle cx="1103.6" cy="318.7" r="2.9" fill="#2a2a2a" stroke="none"/><circle cx="1120.7" cy="318.7" r="6" fill="#6e6e6e" stroke="#5a1a6a" stroke-width="0.7"/><circle cx="1120.7" cy="318.7" r="2.9" fill="#2a2a2a" stroke="none"/><rect x="1216" y="282.5" width="14.5" height="28.5" fill="#6e6e6e" stroke="#5a1a6a" stroke-width="0.7"/><rect x="1219.91" y="287.20" width="6.67" height="19.10" rx="3.33" fill="#262626" stroke="none"/><rect x="1248.2" y="282.5" width="14.5" height="28.5" fill="#6e6e6e" stroke="#5a1a6a" stroke-width="0.7"/><rect x="1252.12" y="287.20" width="6.67" height="19.10" rx="3.33" fill="#262626" stroke="none"/><rect x="1029" y="417.4" width="14.5" height="28.5" fill="#6e6e6e" stroke="#5a1a6a" stroke-width="0.7"/><rect x="1032.91" y="422.10" width="6.67" height="19.10" rx="3.33" fill="#262626" stroke="none"/><rect x="1061" y="417.4" width="14.5" height="28.5" fill="#6e6e6e" stroke="#5a1a6a" stroke-width="0.7"/><rect x="1064.91" y="422.10" width="6.67" height="19.10" rx="3.33" fill="#262626" stroke="none"/><rect x="1093" y="417.4" width="14.5" height="28.5" fill="#6e6e6e" stroke="#5a1a6a" stroke-width="0.7"/><rect x="1096.91" y="422.10" width="6.67" height="19.10" rx="3.33" fill="#262626" stroke="none"/><circle cx="1036.1" cy="481.4" r="1.9" fill="#000" stroke="#7a7a7a" stroke-width="0.85"/><path d="M1209.2 396.0L1213.9 400.7M1235.4 396.0L1230.7 400.7M1209.2 422.2L1213.9 417.5M1235.4 422.2L1230.7 417.5" stroke="#8a8a8a" stroke-width="1"/><circle cx="1222.3" cy="409.1" r="10.5" fill="#2c2c2c" stroke="#555" stroke-width="0.8"/><path d="M1162.2 510.3L1164.0 512.1M1172.2 510.3L1170.4 512.1M1162.2 520.3L1164.0 518.5M1172.2 520.3L1170.4 518.5" stroke="#8a8a8a" stroke-width="1"/><circle cx="1167.2" cy="515.3" r="4" fill="#2c2c2c" stroke="#555" stroke-width="0.8"/><circle cx="1182.9" cy="451.8" r="5.5" fill="#6e6e6e" stroke="#5a1a6a" stroke-width="0.7"/><circle cx="1182.9" cy="451.8" r="3.3" fill="#2a2a2a" stroke="none"/><circle cx="1203.5" cy="451.8" r="5.5" fill="#6e6e6e" stroke="#5a1a6a" stroke-width="0.7"/><circle cx="1203.5" cy="451.8" r="3.3" fill="#2a2a2a" stroke="none"/><circle cx="1186.4" cy="465.6" r="5.5" fill="#6e6e6e" stroke="#5a1a6a" stroke-width="0.7"/><circle cx="1186.4" cy="465.6" r="3.3" fill="#2a2a2a" stroke="none"/><circle cx="1140" cy="495" r="5.5" fill="#6e6e6e" stroke="#5a1a6a" stroke-width="0.7"/><circle cx="1140" cy="495" r="3.3" fill="#2a2a2a" stroke="none"/><circle cx="1247.4" cy="495" r="5.5" fill="#6e6e6e" stroke="#5a1a6a" stroke-width="0.7"/><circle cx="1247.4" cy="495" r="3.3" fill="#2a2a2a" stroke="none"/><circle cx="1140" cy="515.3" r="5.5" fill="#6e6e6e" stroke="#5a1a6a" stroke-width="0.7"/><circle cx="1140" cy="515.3" r="3.3" fill="#2a2a2a" stroke="none"/><circle cx="1247" cy="515.3" r="5.5" fill="#6e6e6e" stroke="#5a1a6a" stroke-width="0.7"/><circle cx="1247" cy="515.3" r="3.3" fill="#2a2a2a" stroke="none"/><circle cx="1240.2" cy="532.3" r="5.5" fill="#6e6e6e" stroke="#5a1a6a" stroke-width="0.7"/><circle cx="1240.2" cy="532.3" r="3.3" fill="#2a2a2a" stroke="none"/><circle cx="1183.2" cy="559.4" r="5.5" fill="#6e6e6e" stroke="#5a1a6a" stroke-width="0.7"/><circle cx="1183.2" cy="559.4" r="3.3" fill="#2a2a2a" stroke="none"/><circle cx="1200.2" cy="553.6" r="5.5" fill="#6e6e6e" stroke="#5a1a6a" stroke-width="0.7"/><circle cx="1200.2" cy="553.6" r="3.3" fill="#2a2a2a" stroke="none"/><circle cx="1135" cy="595" r="1.9" fill="#000" stroke="#7a7a7a" stroke-width="0.85"/><circle cx="1102.7" cy="554.3" r="1.9" fill="#000" stroke="#7a7a7a" stroke-width="0.85"/><path d="M953.1 525L972.9 544.8M1074.7 525L1054.9 544.8M953.1 646.6L972.9 626.8M1074.7 646.6L1054.9 626.8" stroke="#777" stroke-width="1"/><circle cx="1013.9" cy="585.8" r="58.3" fill="#262626" stroke="#4a4a4a" stroke-width="1"/><rect x="1089.1000000000001" y="606.2" width="13.6" height="11.6" rx="5.8" fill="#7a7a7a" stroke="#5a1a6a" stroke-width="0.7"/><rect x="1091.9" y="610.4" width="8" height="3.2" rx="1.6" fill="#262626"/><rect x="1106.1000000000001" y="606.2" width="13.6" height="11.6" rx="5.8" fill="#7a7a7a" stroke="#5a1a6a" stroke-width="0.7"/><rect x="1108.9" y="610.4" width="8" height="3.2" rx="1.6" fill="#262626"/><rect x="1123.1000000000001" y="606.2" width="13.6" height="11.6" rx="5.8" fill="#7a7a7a" stroke="#5a1a6a" stroke-width="0.7"/><rect x="1125.9" y="610.4" width="8" height="3.2" rx="1.6" fill="#262626"/><rect x="1089.1000000000001" y="706.4000000000001" width="13.6" height="11.6" rx="5.8" fill="#7a7a7a" stroke="#5a1a6a" stroke-width="0.7"/><rect x="1091.9" y="710.6" width="8" height="3.2" rx="1.6" fill="#262626"/><rect x="1123.1000000000001" y="706.4000000000001" width="13.6" height="11.6" rx="5.8" fill="#7a7a7a" stroke="#5a1a6a" stroke-width="0.7"/><rect x="1125.9" y="710.6" width="8" height="3.2" rx="1.6" fill="#262626"/><rect x="1066.3" y="651" width="15" height="27.4" rx="7.5" fill="#7a7a7a" stroke="#5a1a6a" stroke-width="0.7"/><rect x="1071.0" y="656" width="5.6" height="17.4" rx="2.8" fill="#262626"/><rect x="1144.5" y="651" width="15" height="27.4" rx="7.5" fill="#7a7a7a" stroke="#5a1a6a" stroke-width="0.7"/><rect x="1149.2" y="656" width="5.6" height="17.4" rx="2.8" fill="#262626"/><path d="M1182.3 579.7L1187.0 584.4M1208.5 579.7L1203.8 584.4M1182.3 605.9L1187.0 601.2M1208.5 605.9L1203.8 601.2" stroke="#8a8a8a" stroke-width="1"/><circle cx="1195.4" cy="592.8" r="10.5" fill="#2c2c2c" stroke="#555" stroke-width="0.8"/></g>
</g>

</svg>
<!-- bottom bar -->
<div style="position:absolute;left:22px;top:753px;width:1346px;height:4px;background:linear-gradient(90deg,#2a4250,#25384a 50%,#1f2d45)"></div>
<div style="position:absolute;left:272px;top:754px;width:61px;height:3px;background:#c67b37"></div>
<!-- right side area -->
<div style="position:absolute;left:1263px;top:0;width:105px;height:754px;background:#e0e0e0"></div>
<div style="position:absolute;left:1263px;top:0;width:9px;height:754px;background:#e3e3e3;border-left:1px solid #f6f6f6;background-image:radial-gradient(#c8c8c8 0.6px,transparent 0.8px);background-size:3px 3px"></div>
<div style="position:absolute;left:1265px;top:330px;width:7px;height:59px;background:#fff;border:1px solid #8a8080;border-radius:1px"></div>
<div style="position:absolute;left:1267px;top:352px;width:0;height:0;border-top:4px solid transparent;border-bottom:4px solid transparent;border-left:4px solid #706868"></div>
<div style="position:absolute;left:1272px;top:0;width:96px;height:341px;background:#fff"></div>
<div style="position:absolute;left:1272px;top:341px;width:96px;height:12px;background:#dcdcdc"></div>
<div style="position:absolute;left:1272px;top:353px;width:96px;height:121px;background:#ececec"></div>
<div style="position:absolute;left:1272px;top:474px;width:96px;height:280px;background:#dedede"></div>
<div style="position:absolute;left:1272px;top:383px;width:96px;height:1px;background:#d2d2d2"></div>
<div style="position:absolute;left:1272px;top:413px;width:96px;height:1px;background:#d2d2d2"></div>
<div style="position:absolute;left:1272px;top:443px;width:96px;height:1px;background:#d2d2d2"></div>
<div style="position:absolute;left:1272px;top:473px;width:96px;height:1px;background:#d2d2d2"></div>
<div style="position:absolute;left:1308px;top:150px;width:80px;height:34px;border:1px solid #3db48f;border-radius:4px;background:#fff"></div>
<div style="position:absolute;left:1331px;top:161px;font-size:15px;color:#3aaa8a">Fonts</div>
<div style="position:absolute;left:1284.5px;top:198px;font-size:15px;color:#333">Line Width</div>
<div style="position:absolute;left:1284.5px;top:236px;font-size:15px;color:#333">Height</div>
<div style="position:absolute;left:1284.5px;top:273px;font-size:15px;color:#333">Rotation</div>
<div style="position:absolute;left:1284.5px;top:311px;font-size:15px;color:#333">ID</div>
<div style="position:absolute;left:1284.5px;top:360px;font-size:15px;color:#333">Mouse-X</div>
<div style="position:absolute;left:1284.5px;top:390px;font-size:15px;color:#333">Mouse-Y</div>
<div style="position:absolute;left:1284.5px;top:420px;font-size:15px;color:#333">Mouse-DX</div>
<div style="position:absolute;left:1284.5px;top:450px;font-size:15px;color:#333">Mouse-DY</div>

<!-- Layers panel -->
<div class="panel" style="left:1125px;top:4px;width:260px;height:162px;">
  <div style="position:absolute;left:0;top:0;width:100%;height:30px;background:#eeeeee;border-bottom:1px solid #d6d6d6"></div>
  <div style="position:absolute;left:6px;top:5.5px;font-size:15px;color:#333">Layers and Objects</div>
  <div style="position:absolute;left:240px;top:5px;font-size:15px;color:#555">×</div>
  <div style="position:absolute;left:0;top:30px;width:100%;height:31px;background:#dcdcdc;border-bottom:1px solid #d0d0d0"></div>
  <div style="position:absolute;left:0;top:30px;width:45px;height:31px;background:#fff"></div>
  <div style="position:absolute;left:120px;top:30px;width:1px;height:31px;background:#c8c8c8"></div>
  <div style="position:absolute;left:228px;top:30px;width:1px;height:31px;background:#c8c8c8"></div>
  <div style="position:absolute;left:13px;top:37px;font-size:15px;color:#2f63b0;-webkit-text-stroke:0.3px #2f63b0">All</div>
  <div style="position:absolute;left:58px;top:37px;font-size:15px;color:#333">Copper</div>
  <div style="position:absolute;left:134px;top:37px;font-size:15px;color:#333">Non-Copper</div>
  <div style="position:absolute;left:241.5px;top:37px;font-size:15px;color:#c08020">C</div>
  <div style="position:absolute;left:1px;top:65px;width:40px;height:30px;background:#ff0000"></div>
  <div style="position:absolute;left:41px;top:95px;width:219px;height:60px;background:#dcdcdc"></div>
  <div style="position:absolute;left:1px;top:95px;width:40px;height:30px;background:#0000ff"></div>
  <div style="position:absolute;left:1px;top:125px;width:40px;height:30px;background:#ffcc00"></div>
  <svg style="position:absolute;left:8px;top:68px" width="26" height="24" viewBox="0 0 26 24">
    <path d="M4 21 L7 14 L19 3 L23 7 L11 18 Z" fill="#f0b020" stroke="#b07010" stroke-width="0.8"/>
    <path d="M19 3 L21 1.5 L25 5 L23 7 Z" fill="#e89090"/>
    <path d="M4 21 L7 14 L11 18 Z" fill="#f8e8c8"/>
  </svg>
  <svg style="position:absolute;left:50px;top:72px" width="22" height="14" viewBox="0 0 22 14"><path d="M1 7.1C4 3 8 1.7 11 1.7S18 3 21 7.1C18 11 14 12.4 11 12.4S4 11 1 7.1Z" fill="#f6f6f6" stroke="#6a6a6a" stroke-width="1.1"/><path d="M2.2 6C5 3 8 2 11 2S17 3 19.8 6" fill="none" stroke="#3a3a3a" stroke-width="1.5"/><circle cx="11" cy="7.1" r="3.7" fill="#45454f"/><ellipse cx="11.3" cy="9" rx="2.4" ry="1.5" fill="#7d80a8"/><circle cx="9.7" cy="5.6" r="1.3" fill="#bdbdbd"/></svg>
  <svg style="position:absolute;left:50px;top:102px" width="22" height="14" viewBox="0 0 22 14"><path d="M1 7.1C4 3 8 1.7 11 1.7S18 3 21 7.1C18 11 14 12.4 11 12.4S4 11 1 7.1Z" fill="#f6f6f6" stroke="#6a6a6a" stroke-width="1.1"/><path d="M2.2 6C5 3 8 2 11 2S17 3 19.8 6" fill="none" stroke="#3a3a3a" stroke-width="1.5"/><circle cx="11" cy="7.1" r="3.7" fill="#45454f"/><ellipse cx="11.3" cy="9" rx="2.4" ry="1.5" fill="#7d80a8"/><circle cx="9.7" cy="5.6" r="1.3" fill="#bdbdbd"/></svg>
  <svg style="position:absolute;left:50px;top:132px" width="22" height="14" viewBox="0 0 22 14"><path d="M1 7.1C4 3 8 1.7 11 1.7S18 3 21 7.1C18 11 14 12.4 11 12.4S4 11 1 7.1Z" fill="#f6f6f6" stroke="#6a6a6a" stroke-width="1.1"/><path d="M2.2 6C5 3 8 2 11 2S17 3 19.8 6" fill="none" stroke="#3a3a3a" stroke-width="1.5"/><circle cx="11" cy="7.1" r="3.7" fill="#45454f"/><ellipse cx="11.3" cy="9" rx="2.4" ry="1.5" fill="#7d80a8"/><circle cx="9.7" cy="5.6" r="1.3" fill="#bdbdbd"/></svg>
  <div style="position:absolute;left:80.5px;top:71px;font-size:15px;color:#333">TopLayer</div>
  <div style="position:absolute;left:80.5px;top:101px;font-size:15px;color:#333">BottomLayer</div>
  <div style="position:absolute;left:80.5px;top:131px;font-size:15px;color:#333">TopSilkLayer</div>
</div>

<!-- PCB Tools panel -->
<div class="panel" style="left:373px;top:21px;width:365px;height:113px;background:#f9f9f9">
  <div style="position:absolute;left:0;top:0;width:100%;height:30px;background:#eeeeee;border-bottom:1px solid #d0d0d0"></div>
  <div style="position:absolute;left:7.5px;top:5px;font-size:15px;color:#333">PCB Tools</div>
  <div style="position:absolute;left:344px;top:13px;width:14px;height:2px;background:#555"></div>
  <svg style="position:absolute;left:0;top:0" width="365" height="113" viewBox="373 21 365 113" fill="none" stroke="#333" stroke-width="1.4">
    <circle cx="389.2" cy="69.9" r="2.3"/><path d="M391.5 69.9H397.1V83.8H405"/><circle cx="407.4" cy="83.9" r="2.3"/>
<circle cx="433.3" cy="77.1" r="7.4" stroke-width="3.8"/>
<circle cx="462.9" cy="72.1" r="4.4" stroke-width="2.3"/><path d="M467.3 72.1H479.3M462.9 76.5V87.6" stroke-width="2.4"/>
<path d="M494.2 68.2H511.8L512 73.5L510.4 71.5H505.2V85H507.5V86.6H498.5V85H500.8V71.5H495.6L494 73.5Z" stroke-width="1.1"/>
<path d="M538.6 87.6A10.5 10.5 0 1 1 549.1 77.1" /><path d="M549.1 77.1H538.6V87.6" stroke-dasharray="1.6 1.2" stroke-width="1"/>
<path d="M583.6 76.7A10.3 10.3 0 1 0 573.4 87" /><path d="M573.4 77V87" stroke-dasharray="1.6 1.2" stroke-width="1"/><path d="M571.5 85.6L574 87.2L571.8 88.6" stroke-width="1"/>
<circle cx="608.3" cy="77.1" r="10.4"/>
<path d="M636 79.5C634.5 77.5 635.5 76 637.3 77.2L639.8 80.2L637.8 69.5C637.5 67.5 639.8 67 640.3 69L642.3 77L641.6 67C641.6 65 644 65 644.2 67L645 77L646 68.5C646.3 66.5 648.5 66.8 648.4 68.8L648.2 78L649.6 72.5C650 70.8 652 71.2 651.7 73.2L650.6 82C650 86 647 88.8 643.8 88.8C640.6 88.8 638.6 86.5 636 79.5Z" stroke-width="1.2"/>
<circle cx="678.3" cy="77.1" r="7.4"/><path d="M668.2 67.1L673 71.9M683.6 82.3L688.6 87.3M688.6 67.1L683.6 72.1M673 82.3L668.2 87.3"/>
<rect x="702.4" y="68" width="21.9" height="18.4" stroke-width="1.6"/><path d="M702.4 80.5L708.5 75L716 80L724.3 77" stroke-width="1.5"/><circle cx="718.2" cy="73.4" r="1.2" fill="#333" stroke="none"/>
<circle cx="389" cy="103" r="1.8" fill="#333"/><path d="M389 103H407M389 103V120"/><path d="M404 100.3L409.5 102.3L404 104.3Z M386.8 118.5L389 124L391.2 118.5Z" fill="#333" stroke="none"/>
<path d="M438.6 103.7L422.1 120.1H445.1"/><path d="M428.5 114A7 7 0 0 1 430.3 120.1" stroke-width="0.9"/>
<circle cx="459.6" cy="103" r="2.2"/><circle cx="477.4" cy="119.5" r="2.2"/><path d="M461.4 104.8L475.6 117.7" stroke-dasharray="2 1.6"/>
<path d="M497 102.3H515.3V111.6H509.5V121.4H490.7V111.4H497Z" stroke-dasharray="2.2 1.6" stroke-width="1.2"/>
<path d="M526 111.6H533.3V102.4H551V121.4H526Z" stroke-width="1.5"/>
<path d="M564.1 121.1L571.1 114.3M563.7 116.8L564.1 121.1L568.2 121.3M567.4 110.4L574.8 117.6M571.8 106.1L579.4 113.5M575.9 109.3L582.4 103.2M578.6 102.8L582.4 103.2L582.5 107" stroke-width="1.5"/>
<rect x="599.1" y="102.6" width="18.7" height="18.8" stroke-width="1.5"/>
<g stroke-width="1.3"><rect x="634.6" y="102.9" width="2.6" height="3" rx="0.6"/><rect x="650.7" y="102.9" width="2.9" height="3" rx="0.6"/><rect x="634.6" y="118.8" width="2.6" height="3.1" rx="0.6"/><rect x="650.7" y="118.8" width="2.9" height="3.1" rx="0.6"/><rect x="638.2" y="106.5" width="8.4" height="7.6"/><rect x="641.6" y="110.6" width="8.7" height="7.8"/></g>
<rect x="666.6" y="102.6" width="23.9" height="18.8" stroke-width="1.5"/><path d="M678 121.4V114.5H690.5M678 118H690.5M684.2 114.5V121.4"/>

  </svg>
</div>

</body></html>
